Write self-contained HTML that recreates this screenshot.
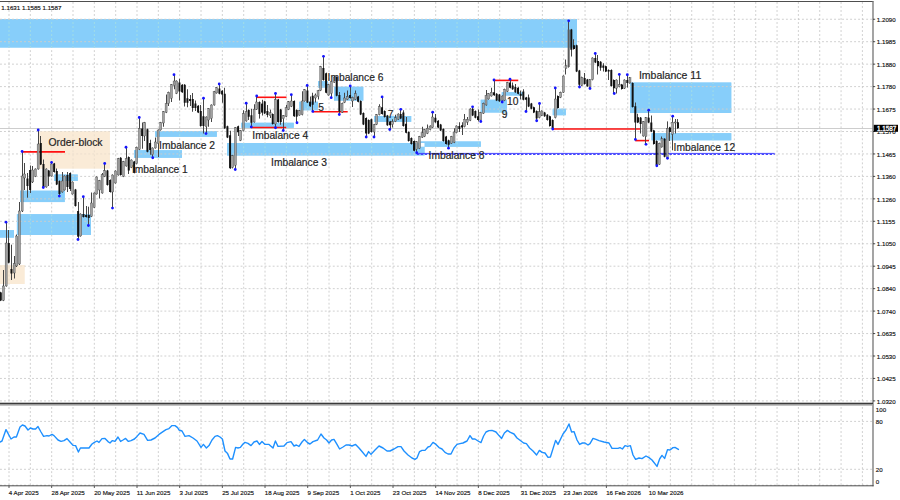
<!DOCTYPE html>
<html><head><meta charset="utf-8"><title>Chart</title>
<style>html,body{margin:0;padding:0;background:#fff;}body{width:900px;height:500px;overflow:hidden;font-family:"Liberation Sans",sans-serif;}svg{display:block}text{font-family:"Liberation Sans",sans-serif;}</style></head><body>
<svg width="900" height="500" viewBox="0 0 900 500">
<rect x="0" y="0" width="900" height="500" fill="#ffffff"/>
<rect x="38.8" y="131.4" width="71.00" height="37.00" fill="#FAEBD7"/>
<rect x="0" y="265.2" width="24.50" height="18.80" fill="#FAEBD7"/>
<rect x="0" y="19" width="577.00" height="28.50" fill="#87CEFA"/>
<rect x="54.2" y="174.6" width="23.50" height="6.40" fill="#87CEFA"/>
<rect x="20" y="190.7" width="44.70" height="11.40" fill="#87CEFA"/>
<rect x="16.9" y="214.2" width="74.10" height="20.70" fill="#87CEFA"/>
<rect x="0" y="230.2" width="14.00" height="7.40" fill="#87CEFA"/>
<rect x="134" y="150.25" width="48.00" height="7.50" fill="#87CEFA"/>
<rect x="155" y="131.2" width="61.80" height="5.55" fill="#87CEFA"/>
<rect x="227" y="143" width="197.50" height="12.40" fill="#87CEFA"/>
<rect x="241.25" y="122.8" width="52.50" height="4.95" fill="#87CEFA"/>
<rect x="299.25" y="101.75" width="18.75" height="8.50" fill="#87CEFA"/>
<rect x="318" y="81.2" width="9.75" height="6.30" fill="#87CEFA"/>
<rect x="334" y="86.75" width="29.30" height="13.85" fill="#87CEFA"/>
<rect x="374" y="116" width="37.20" height="5.80" fill="#87CEFA"/>
<rect x="420.5" y="141.5" width="60.30" height="5.20" fill="#87CEFA"/>
<rect x="480.75" y="99.75" width="26.25" height="12.75" fill="#87CEFA"/>
<rect x="501.75" y="92.25" width="21.00" height="3.25" fill="#87CEFA"/>
<rect x="552.75" y="108.75" width="13.05" height="6.45" fill="#87CEFA"/>
<rect x="630" y="82.6" width="101.25" height="30.40" fill="#87CEFA"/>
<rect x="651.5" y="133.2" width="79.75" height="7.10" fill="#87CEFA"/>
<rect x="420.5" y="143" width="4.00" height="3.70" fill="#ffffff"/>
<g stroke="#c4c4c4" stroke-width="0.8" stroke-dasharray="1.9 2.11" fill="none">
<line x1="9.00" y1="2.0" x2="9.00" y2="485.8"/>
<line x1="30.34" y1="2.0" x2="30.34" y2="485.8"/>
<line x1="51.67" y1="2.0" x2="51.67" y2="485.8"/>
<line x1="73.00" y1="2.0" x2="73.00" y2="485.8"/>
<line x1="94.34" y1="2.0" x2="94.34" y2="485.8"/>
<line x1="115.68" y1="2.0" x2="115.68" y2="485.8"/>
<line x1="137.01" y1="2.0" x2="137.01" y2="485.8"/>
<line x1="158.34" y1="2.0" x2="158.34" y2="485.8"/>
<line x1="179.68" y1="2.0" x2="179.68" y2="485.8"/>
<line x1="201.02" y1="2.0" x2="201.02" y2="485.8"/>
<line x1="222.35" y1="2.0" x2="222.35" y2="485.8"/>
<line x1="243.69" y1="2.0" x2="243.69" y2="485.8"/>
<line x1="265.02" y1="2.0" x2="265.02" y2="485.8"/>
<line x1="286.36" y1="2.0" x2="286.36" y2="485.8"/>
<line x1="307.69" y1="2.0" x2="307.69" y2="485.8"/>
<line x1="329.03" y1="2.0" x2="329.03" y2="485.8"/>
<line x1="350.36" y1="2.0" x2="350.36" y2="485.8"/>
<line x1="371.69" y1="2.0" x2="371.69" y2="485.8"/>
<line x1="393.03" y1="2.0" x2="393.03" y2="485.8"/>
<line x1="414.37" y1="2.0" x2="414.37" y2="485.8"/>
<line x1="435.70" y1="2.0" x2="435.70" y2="485.8"/>
<line x1="457.04" y1="2.0" x2="457.04" y2="485.8"/>
<line x1="478.37" y1="2.0" x2="478.37" y2="485.8"/>
<line x1="499.71" y1="2.0" x2="499.71" y2="485.8"/>
<line x1="521.04" y1="2.0" x2="521.04" y2="485.8"/>
<line x1="542.38" y1="2.0" x2="542.38" y2="485.8"/>
<line x1="563.71" y1="2.0" x2="563.71" y2="485.8"/>
<line x1="585.05" y1="2.0" x2="585.05" y2="485.8"/>
<line x1="606.38" y1="2.0" x2="606.38" y2="485.8"/>
<line x1="627.72" y1="2.0" x2="627.72" y2="485.8"/>
<line x1="649.05" y1="2.0" x2="649.05" y2="485.8"/>
<line x1="670.38" y1="2.0" x2="670.38" y2="485.8"/>
<line x1="691.72" y1="2.0" x2="691.72" y2="485.8"/>
<line x1="713.06" y1="2.0" x2="713.06" y2="485.8"/>
<line x1="734.39" y1="2.0" x2="734.39" y2="485.8"/>
<line x1="755.73" y1="2.0" x2="755.73" y2="485.8"/>
<line x1="777.06" y1="2.0" x2="777.06" y2="485.8"/>
<line x1="798.39" y1="2.0" x2="798.39" y2="485.8"/>
<line x1="819.73" y1="2.0" x2="819.73" y2="485.8"/>
<line x1="841.07" y1="2.0" x2="841.07" y2="485.8"/>
<line x1="862.40" y1="2.0" x2="862.40" y2="485.8"/>
<line x1="0" y1="19.25" x2="873.0" y2="19.25"/>
<line x1="0" y1="41.70" x2="873.0" y2="41.70"/>
<line x1="0" y1="64.15" x2="873.0" y2="64.15"/>
<line x1="0" y1="86.60" x2="873.0" y2="86.60"/>
<line x1="0" y1="109.05" x2="873.0" y2="109.05"/>
<line x1="0" y1="131.50" x2="873.0" y2="131.50"/>
<line x1="0" y1="153.95" x2="873.0" y2="153.95"/>
<line x1="0" y1="176.40" x2="873.0" y2="176.40"/>
<line x1="0" y1="198.85" x2="873.0" y2="198.85"/>
<line x1="0" y1="221.30" x2="873.0" y2="221.30"/>
<line x1="0" y1="243.75" x2="873.0" y2="243.75"/>
<line x1="0" y1="266.20" x2="873.0" y2="266.20"/>
<line x1="0" y1="288.65" x2="873.0" y2="288.65"/>
<line x1="0" y1="311.10" x2="873.0" y2="311.10"/>
<line x1="0" y1="333.55" x2="873.0" y2="333.55"/>
<line x1="0" y1="356.00" x2="873.0" y2="356.00"/>
<line x1="0" y1="378.45" x2="873.0" y2="378.45"/>
<line x1="0" y1="400.90" x2="873.0" y2="400.90"/>
<line x1="0" y1="421.40" x2="873.0" y2="421.40"/>
<line x1="0" y1="469.30" x2="873.0" y2="469.30"/>
<line x1="0" y1="485.20" x2="873.0" y2="485.20"/>
</g>
<defs><clipPath id="cb">
<rect x="0" y="19" width="577.00" height="28.50"/>
<rect x="54.2" y="174.6" width="23.50" height="6.40"/>
<rect x="20" y="190.7" width="44.70" height="11.40"/>
<rect x="16.9" y="214.2" width="74.10" height="20.70"/>
<rect x="0" y="230.2" width="14.00" height="7.40"/>
<rect x="134" y="150.25" width="48.00" height="7.50"/>
<rect x="155" y="131.2" width="61.80" height="5.55"/>
<rect x="227" y="143" width="197.50" height="12.40"/>
<rect x="241.25" y="122.8" width="52.50" height="4.95"/>
<rect x="299.25" y="101.75" width="18.75" height="8.50"/>
<rect x="318" y="81.2" width="9.75" height="6.30"/>
<rect x="334" y="86.75" width="29.30" height="13.85"/>
<rect x="374" y="116" width="37.20" height="5.80"/>
<rect x="420.5" y="141.5" width="60.30" height="5.20"/>
<rect x="480.75" y="99.75" width="26.25" height="12.75"/>
<rect x="501.75" y="92.25" width="21.00" height="3.25"/>
<rect x="552.75" y="108.75" width="13.05" height="6.45"/>
<rect x="630" y="82.6" width="101.25" height="30.40"/>
<rect x="651.5" y="133.2" width="79.75" height="7.10"/>
</clipPath><clipPath id="cg">
<rect x="38.8" y="131.4" width="71.00" height="37.00"/>
<rect x="0" y="265.2" width="24.50" height="18.80"/>
</clipPath></defs>
<g clip-path="url(#cb)"><rect x="0" y="0" width="900" height="500" fill="#87CEFA"/><g stroke="#a9e2e0" stroke-width="0.8" stroke-dasharray="1.9 2.11" fill="none">
<line x1="9.00" y1="2.0" x2="9.00" y2="485.8"/>
<line x1="30.34" y1="2.0" x2="30.34" y2="485.8"/>
<line x1="51.67" y1="2.0" x2="51.67" y2="485.8"/>
<line x1="73.00" y1="2.0" x2="73.00" y2="485.8"/>
<line x1="94.34" y1="2.0" x2="94.34" y2="485.8"/>
<line x1="115.68" y1="2.0" x2="115.68" y2="485.8"/>
<line x1="137.01" y1="2.0" x2="137.01" y2="485.8"/>
<line x1="158.34" y1="2.0" x2="158.34" y2="485.8"/>
<line x1="179.68" y1="2.0" x2="179.68" y2="485.8"/>
<line x1="201.02" y1="2.0" x2="201.02" y2="485.8"/>
<line x1="222.35" y1="2.0" x2="222.35" y2="485.8"/>
<line x1="243.69" y1="2.0" x2="243.69" y2="485.8"/>
<line x1="265.02" y1="2.0" x2="265.02" y2="485.8"/>
<line x1="286.36" y1="2.0" x2="286.36" y2="485.8"/>
<line x1="307.69" y1="2.0" x2="307.69" y2="485.8"/>
<line x1="329.03" y1="2.0" x2="329.03" y2="485.8"/>
<line x1="350.36" y1="2.0" x2="350.36" y2="485.8"/>
<line x1="371.69" y1="2.0" x2="371.69" y2="485.8"/>
<line x1="393.03" y1="2.0" x2="393.03" y2="485.8"/>
<line x1="414.37" y1="2.0" x2="414.37" y2="485.8"/>
<line x1="435.70" y1="2.0" x2="435.70" y2="485.8"/>
<line x1="457.04" y1="2.0" x2="457.04" y2="485.8"/>
<line x1="478.37" y1="2.0" x2="478.37" y2="485.8"/>
<line x1="499.71" y1="2.0" x2="499.71" y2="485.8"/>
<line x1="521.04" y1="2.0" x2="521.04" y2="485.8"/>
<line x1="542.38" y1="2.0" x2="542.38" y2="485.8"/>
<line x1="563.71" y1="2.0" x2="563.71" y2="485.8"/>
<line x1="585.05" y1="2.0" x2="585.05" y2="485.8"/>
<line x1="606.38" y1="2.0" x2="606.38" y2="485.8"/>
<line x1="627.72" y1="2.0" x2="627.72" y2="485.8"/>
<line x1="649.05" y1="2.0" x2="649.05" y2="485.8"/>
<line x1="670.38" y1="2.0" x2="670.38" y2="485.8"/>
<line x1="691.72" y1="2.0" x2="691.72" y2="485.8"/>
<line x1="713.06" y1="2.0" x2="713.06" y2="485.8"/>
<line x1="734.39" y1="2.0" x2="734.39" y2="485.8"/>
<line x1="755.73" y1="2.0" x2="755.73" y2="485.8"/>
<line x1="777.06" y1="2.0" x2="777.06" y2="485.8"/>
<line x1="798.39" y1="2.0" x2="798.39" y2="485.8"/>
<line x1="819.73" y1="2.0" x2="819.73" y2="485.8"/>
<line x1="841.07" y1="2.0" x2="841.07" y2="485.8"/>
<line x1="862.40" y1="2.0" x2="862.40" y2="485.8"/>
</g>
<g stroke="#d8cdc4" stroke-width="0.8" stroke-dasharray="1.9 2.11" fill="none">
<line x1="0" y1="19.25" x2="873.0" y2="19.25"/>
<line x1="0" y1="41.70" x2="873.0" y2="41.70"/>
<line x1="0" y1="64.15" x2="873.0" y2="64.15"/>
<line x1="0" y1="86.60" x2="873.0" y2="86.60"/>
<line x1="0" y1="109.05" x2="873.0" y2="109.05"/>
<line x1="0" y1="131.50" x2="873.0" y2="131.50"/>
<line x1="0" y1="153.95" x2="873.0" y2="153.95"/>
<line x1="0" y1="176.40" x2="873.0" y2="176.40"/>
<line x1="0" y1="198.85" x2="873.0" y2="198.85"/>
<line x1="0" y1="221.30" x2="873.0" y2="221.30"/>
<line x1="0" y1="243.75" x2="873.0" y2="243.75"/>
<line x1="0" y1="266.20" x2="873.0" y2="266.20"/>
<line x1="0" y1="288.65" x2="873.0" y2="288.65"/>
<line x1="0" y1="311.10" x2="873.0" y2="311.10"/>
<line x1="0" y1="333.55" x2="873.0" y2="333.55"/>
<line x1="0" y1="356.00" x2="873.0" y2="356.00"/>
<line x1="0" y1="378.45" x2="873.0" y2="378.45"/>
<line x1="0" y1="400.90" x2="873.0" y2="400.90"/>
</g></g>
<g clip-path="url(#cg)"><rect x="0" y="0" width="900" height="500" fill="#FAEBD7"/><g stroke="#e9dccb" stroke-width="0.8" stroke-dasharray="1.9 2.11" fill="none">
<line x1="9.00" y1="2.0" x2="9.00" y2="485.8"/>
<line x1="30.34" y1="2.0" x2="30.34" y2="485.8"/>
<line x1="51.67" y1="2.0" x2="51.67" y2="485.8"/>
<line x1="73.00" y1="2.0" x2="73.00" y2="485.8"/>
<line x1="94.34" y1="2.0" x2="94.34" y2="485.8"/>
<line x1="115.68" y1="2.0" x2="115.68" y2="485.8"/>
<line x1="137.01" y1="2.0" x2="137.01" y2="485.8"/>
<line x1="158.34" y1="2.0" x2="158.34" y2="485.8"/>
<line x1="179.68" y1="2.0" x2="179.68" y2="485.8"/>
<line x1="201.02" y1="2.0" x2="201.02" y2="485.8"/>
<line x1="222.35" y1="2.0" x2="222.35" y2="485.8"/>
<line x1="243.69" y1="2.0" x2="243.69" y2="485.8"/>
<line x1="265.02" y1="2.0" x2="265.02" y2="485.8"/>
<line x1="286.36" y1="2.0" x2="286.36" y2="485.8"/>
<line x1="307.69" y1="2.0" x2="307.69" y2="485.8"/>
<line x1="329.03" y1="2.0" x2="329.03" y2="485.8"/>
<line x1="350.36" y1="2.0" x2="350.36" y2="485.8"/>
<line x1="371.69" y1="2.0" x2="371.69" y2="485.8"/>
<line x1="393.03" y1="2.0" x2="393.03" y2="485.8"/>
<line x1="414.37" y1="2.0" x2="414.37" y2="485.8"/>
<line x1="435.70" y1="2.0" x2="435.70" y2="485.8"/>
<line x1="457.04" y1="2.0" x2="457.04" y2="485.8"/>
<line x1="478.37" y1="2.0" x2="478.37" y2="485.8"/>
<line x1="499.71" y1="2.0" x2="499.71" y2="485.8"/>
<line x1="521.04" y1="2.0" x2="521.04" y2="485.8"/>
<line x1="542.38" y1="2.0" x2="542.38" y2="485.8"/>
<line x1="563.71" y1="2.0" x2="563.71" y2="485.8"/>
<line x1="585.05" y1="2.0" x2="585.05" y2="485.8"/>
<line x1="606.38" y1="2.0" x2="606.38" y2="485.8"/>
<line x1="627.72" y1="2.0" x2="627.72" y2="485.8"/>
<line x1="649.05" y1="2.0" x2="649.05" y2="485.8"/>
<line x1="670.38" y1="2.0" x2="670.38" y2="485.8"/>
<line x1="691.72" y1="2.0" x2="691.72" y2="485.8"/>
<line x1="713.06" y1="2.0" x2="713.06" y2="485.8"/>
<line x1="734.39" y1="2.0" x2="734.39" y2="485.8"/>
<line x1="755.73" y1="2.0" x2="755.73" y2="485.8"/>
<line x1="777.06" y1="2.0" x2="777.06" y2="485.8"/>
<line x1="798.39" y1="2.0" x2="798.39" y2="485.8"/>
<line x1="819.73" y1="2.0" x2="819.73" y2="485.8"/>
<line x1="841.07" y1="2.0" x2="841.07" y2="485.8"/>
<line x1="862.40" y1="2.0" x2="862.40" y2="485.8"/>
</g>
<g stroke="#e9dccb" stroke-width="0.8" stroke-dasharray="1.9 2.11" fill="none">
<line x1="0" y1="19.25" x2="873.0" y2="19.25"/>
<line x1="0" y1="41.70" x2="873.0" y2="41.70"/>
<line x1="0" y1="64.15" x2="873.0" y2="64.15"/>
<line x1="0" y1="86.60" x2="873.0" y2="86.60"/>
<line x1="0" y1="109.05" x2="873.0" y2="109.05"/>
<line x1="0" y1="131.50" x2="873.0" y2="131.50"/>
<line x1="0" y1="153.95" x2="873.0" y2="153.95"/>
<line x1="0" y1="176.40" x2="873.0" y2="176.40"/>
<line x1="0" y1="198.85" x2="873.0" y2="198.85"/>
<line x1="0" y1="221.30" x2="873.0" y2="221.30"/>
<line x1="0" y1="243.75" x2="873.0" y2="243.75"/>
<line x1="0" y1="266.20" x2="873.0" y2="266.20"/>
<line x1="0" y1="288.65" x2="873.0" y2="288.65"/>
<line x1="0" y1="311.10" x2="873.0" y2="311.10"/>
<line x1="0" y1="333.55" x2="873.0" y2="333.55"/>
<line x1="0" y1="356.00" x2="873.0" y2="356.00"/>
<line x1="0" y1="378.45" x2="873.0" y2="378.45"/>
<line x1="0" y1="400.90" x2="873.0" y2="400.90"/>
</g></g>
<rect x="420.5" y="143" width="4.00" height="3.70" fill="#ffffff"/>
<line x1="0" y1="128.5" x2="873.0" y2="128.5" stroke="#c0c0c0" stroke-width="0.8"/>
<line x1="22" y1="151.9" x2="65" y2="151.9" stroke="#ff1010" stroke-width="1.6"/>
<line x1="256.7" y1="97.3" x2="286.5" y2="97.3" stroke="#ff1010" stroke-width="1.6"/>
<line x1="251" y1="127.5" x2="286.25" y2="127.5" stroke="#ff1010" stroke-width="1.6"/>
<line x1="312.6" y1="111.75" x2="347.7" y2="111.75" stroke="#ff1010" stroke-width="1.6"/>
<line x1="494" y1="80.4" x2="518.25" y2="80.4" stroke="#ff1010" stroke-width="1.6"/>
<line x1="552.75" y1="129.0" x2="641" y2="129.0" stroke="#ff1010" stroke-width="1.6"/>
<line x1="635.2" y1="140.6" x2="649" y2="140.6" stroke="#ff1010" stroke-width="1.6"/>
<line x1="416.75" y1="153.4" x2="774.7" y2="153.4" stroke="#3a3aff" stroke-width="0.95"/>
<line x1="416.75" y1="154.45" x2="774.7" y2="154.45" stroke="#3a3aff" stroke-width="1.0" stroke-dasharray="2.5 1.51"/>
<g>
<line x1="0.50" y1="291.80" x2="0.50" y2="301.10" stroke="#464646" stroke-width="1"/>
<rect x="-0.20" y="292.40" width="2.0" height="8.10" fill="#111111"/>
<line x1="3.50" y1="270.00" x2="3.50" y2="301.10" stroke="#464646" stroke-width="1"/>
<rect x="2.47" y="286.00" width="2.0" height="14.50" fill="#a2a2a2"/>
<rect x="2.47" y="286.00" width="2.0" height="14.50" fill="none" stroke="#333" stroke-width="0.35"/>
<line x1="6.50" y1="222.20" x2="6.50" y2="286.60" stroke="#464646" stroke-width="1"/>
<rect x="5.13" y="243.00" width="2.0" height="43.00" fill="#a2a2a2"/>
<rect x="5.13" y="243.00" width="2.0" height="43.00" fill="none" stroke="#333" stroke-width="0.35"/>
<line x1="8.50" y1="230.00" x2="8.50" y2="263.30" stroke="#464646" stroke-width="1"/>
<rect x="7.80" y="243.00" width="2.0" height="19.70" fill="#111111"/>
<line x1="11.50" y1="244.70" x2="11.50" y2="280.00" stroke="#464646" stroke-width="1"/>
<rect x="10.46" y="269.00" width="2.0" height="4.50" fill="#111111"/>
<line x1="14.50" y1="256.00" x2="14.50" y2="278.50" stroke="#464646" stroke-width="1"/>
<rect x="13.13" y="263.50" width="2.0" height="9.50" fill="#a2a2a2"/>
<rect x="13.13" y="263.50" width="2.0" height="9.50" fill="none" stroke="#333" stroke-width="0.35"/>
<line x1="16.50" y1="234.50" x2="16.50" y2="267.00" stroke="#464646" stroke-width="1"/>
<rect x="15.80" y="236.00" width="2.0" height="30.00" fill="#a2a2a2"/>
<rect x="15.80" y="236.00" width="2.0" height="30.00" fill="none" stroke="#333" stroke-width="0.35"/>
<line x1="19.50" y1="202.00" x2="19.50" y2="265.00" stroke="#464646" stroke-width="1"/>
<rect x="18.46" y="211.00" width="2.0" height="53.00" fill="#a2a2a2"/>
<rect x="18.46" y="211.00" width="2.0" height="53.00" fill="none" stroke="#333" stroke-width="0.35"/>
<line x1="22.50" y1="151.50" x2="22.50" y2="212.00" stroke="#464646" stroke-width="1"/>
<rect x="21.13" y="176.00" width="2.0" height="35.00" fill="#a2a2a2"/>
<rect x="21.13" y="176.00" width="2.0" height="35.00" fill="none" stroke="#333" stroke-width="0.35"/>
<line x1="24.50" y1="163.00" x2="24.50" y2="190.00" stroke="#464646" stroke-width="1"/>
<rect x="23.79" y="174.00" width="2.0" height="4.00" fill="#a2a2a2"/>
<rect x="23.79" y="174.00" width="2.0" height="4.00" fill="none" stroke="#333" stroke-width="0.35"/>
<line x1="27.50" y1="173.00" x2="27.50" y2="197.70" stroke="#464646" stroke-width="1"/>
<rect x="26.46" y="178.50" width="2.0" height="7.50" fill="#111111"/>
<line x1="30.50" y1="165.50" x2="30.50" y2="193.00" stroke="#464646" stroke-width="1"/>
<rect x="29.13" y="170.00" width="2.0" height="20.00" fill="#111111"/>
<line x1="32.50" y1="166.00" x2="32.50" y2="183.00" stroke="#464646" stroke-width="1"/>
<rect x="31.79" y="170.00" width="2.0" height="12.00" fill="#a2a2a2"/>
<rect x="31.79" y="170.00" width="2.0" height="12.00" fill="none" stroke="#333" stroke-width="0.35"/>
<line x1="35.50" y1="168.40" x2="35.50" y2="177.10" stroke="#464646" stroke-width="1"/>
<rect x="34.46" y="169.00" width="2.0" height="7.50" fill="#a2a2a2"/>
<rect x="34.46" y="169.00" width="2.0" height="7.50" fill="none" stroke="#333" stroke-width="0.35"/>
<line x1="38.50" y1="130.00" x2="38.50" y2="169.60" stroke="#464646" stroke-width="1"/>
<rect x="37.12" y="144.00" width="2.0" height="25.00" fill="#a2a2a2"/>
<rect x="37.12" y="144.00" width="2.0" height="25.00" fill="none" stroke="#333" stroke-width="0.35"/>
<line x1="40.50" y1="136.00" x2="40.50" y2="165.10" stroke="#464646" stroke-width="1"/>
<rect x="39.79" y="143.00" width="2.0" height="21.50" fill="#111111"/>
<line x1="43.50" y1="159.50" x2="43.50" y2="187.50" stroke="#464646" stroke-width="1"/>
<rect x="42.46" y="164.00" width="2.0" height="23.00" fill="#111111"/>
<line x1="46.50" y1="168.40" x2="46.50" y2="187.60" stroke="#464646" stroke-width="1"/>
<rect x="45.12" y="169.00" width="2.0" height="18.00" fill="#a2a2a2"/>
<rect x="45.12" y="169.00" width="2.0" height="18.00" fill="none" stroke="#333" stroke-width="0.35"/>
<line x1="48.50" y1="169.90" x2="48.50" y2="186.00" stroke="#464646" stroke-width="1"/>
<rect x="47.79" y="170.50" width="2.0" height="6.00" fill="#111111"/>
<line x1="51.50" y1="161.50" x2="51.50" y2="176.60" stroke="#464646" stroke-width="1"/>
<rect x="50.45" y="164.00" width="2.0" height="12.00" fill="#a2a2a2"/>
<rect x="50.45" y="164.00" width="2.0" height="12.00" fill="none" stroke="#333" stroke-width="0.35"/>
<line x1="54.50" y1="162.90" x2="54.50" y2="172.60" stroke="#464646" stroke-width="1"/>
<rect x="53.12" y="163.50" width="2.0" height="8.50" fill="#111111"/>
<line x1="56.50" y1="168.50" x2="56.50" y2="185.10" stroke="#464646" stroke-width="1"/>
<rect x="55.79" y="171.00" width="2.0" height="13.50" fill="#111111"/>
<line x1="59.50" y1="180.40" x2="59.50" y2="196.00" stroke="#464646" stroke-width="1"/>
<rect x="58.45" y="181.00" width="2.0" height="13.00" fill="#111111"/>
<line x1="62.50" y1="172.00" x2="62.50" y2="192.60" stroke="#464646" stroke-width="1"/>
<rect x="61.12" y="181.00" width="2.0" height="11.00" fill="#a2a2a2"/>
<rect x="61.12" y="181.00" width="2.0" height="11.00" fill="none" stroke="#333" stroke-width="0.35"/>
<line x1="64.50" y1="175.40" x2="64.50" y2="190.60" stroke="#464646" stroke-width="1"/>
<rect x="63.78" y="176.00" width="2.0" height="14.00" fill="#a2a2a2"/>
<rect x="63.78" y="176.00" width="2.0" height="14.00" fill="none" stroke="#333" stroke-width="0.35"/>
<line x1="67.50" y1="172.00" x2="67.50" y2="192.00" stroke="#464646" stroke-width="1"/>
<rect x="66.45" y="175.00" width="2.0" height="12.00" fill="#111111"/>
<line x1="70.50" y1="172.40" x2="70.50" y2="191.00" stroke="#464646" stroke-width="1"/>
<rect x="69.12" y="173.00" width="2.0" height="16.00" fill="#111111"/>
<line x1="72.50" y1="181.40" x2="72.50" y2="194.60" stroke="#464646" stroke-width="1"/>
<rect x="71.78" y="182.00" width="2.0" height="12.00" fill="#a2a2a2"/>
<rect x="71.78" y="182.00" width="2.0" height="12.00" fill="none" stroke="#333" stroke-width="0.35"/>
<line x1="75.50" y1="188.90" x2="75.50" y2="206.60" stroke="#464646" stroke-width="1"/>
<rect x="74.45" y="189.50" width="2.0" height="16.50" fill="#111111"/>
<line x1="78.50" y1="202.00" x2="78.50" y2="239.40" stroke="#464646" stroke-width="1"/>
<rect x="77.11" y="211.00" width="2.0" height="25.70" fill="#111111"/>
<line x1="80.50" y1="213.40" x2="80.50" y2="236.60" stroke="#464646" stroke-width="1"/>
<rect x="79.78" y="214.00" width="2.0" height="22.00" fill="#a2a2a2"/>
<rect x="79.78" y="214.00" width="2.0" height="22.00" fill="none" stroke="#333" stroke-width="0.35"/>
<line x1="83.50" y1="197.00" x2="83.50" y2="217.60" stroke="#464646" stroke-width="1"/>
<rect x="82.45" y="214.00" width="2.0" height="3.00" fill="#111111"/>
<line x1="86.50" y1="206.00" x2="86.50" y2="217.60" stroke="#464646" stroke-width="1"/>
<rect x="85.11" y="215.00" width="2.0" height="2.00" fill="#111111"/>
<line x1="88.50" y1="206.70" x2="88.50" y2="225.50" stroke="#464646" stroke-width="1"/>
<rect x="87.78" y="215.00" width="2.0" height="3.00" fill="#111111"/>
<line x1="91.50" y1="192.50" x2="91.50" y2="217.10" stroke="#464646" stroke-width="1"/>
<rect x="90.44" y="203.00" width="2.0" height="13.50" fill="#a2a2a2"/>
<rect x="90.44" y="203.00" width="2.0" height="13.50" fill="none" stroke="#333" stroke-width="0.35"/>
<line x1="94.50" y1="192.40" x2="94.50" y2="208.10" stroke="#464646" stroke-width="1"/>
<rect x="93.11" y="193.00" width="2.0" height="14.50" fill="#a2a2a2"/>
<rect x="93.11" y="193.00" width="2.0" height="14.50" fill="none" stroke="#333" stroke-width="0.35"/>
<line x1="96.50" y1="176.40" x2="96.50" y2="194.60" stroke="#464646" stroke-width="1"/>
<rect x="95.78" y="177.00" width="2.0" height="17.00" fill="#a2a2a2"/>
<rect x="95.78" y="177.00" width="2.0" height="17.00" fill="none" stroke="#333" stroke-width="0.35"/>
<line x1="99.50" y1="179.90" x2="99.50" y2="198.50" stroke="#464646" stroke-width="1"/>
<rect x="98.44" y="180.50" width="2.0" height="9.50" fill="#a2a2a2"/>
<rect x="98.44" y="180.50" width="2.0" height="9.50" fill="none" stroke="#333" stroke-width="0.35"/>
<line x1="102.50" y1="173.00" x2="102.50" y2="193.60" stroke="#464646" stroke-width="1"/>
<rect x="101.11" y="174.50" width="2.0" height="18.50" fill="#a2a2a2"/>
<rect x="101.11" y="174.50" width="2.0" height="18.50" fill="none" stroke="#333" stroke-width="0.35"/>
<line x1="104.50" y1="163.50" x2="104.50" y2="177.10" stroke="#464646" stroke-width="1"/>
<rect x="103.77" y="170.50" width="2.0" height="6.00" fill="#a2a2a2"/>
<rect x="103.77" y="170.50" width="2.0" height="6.00" fill="none" stroke="#333" stroke-width="0.35"/>
<line x1="107.50" y1="169.90" x2="107.50" y2="185.60" stroke="#464646" stroke-width="1"/>
<rect x="106.44" y="170.50" width="2.0" height="14.50" fill="#111111"/>
<line x1="110.50" y1="179.40" x2="110.50" y2="192.60" stroke="#464646" stroke-width="1"/>
<rect x="109.11" y="180.00" width="2.0" height="12.00" fill="#111111"/>
<line x1="112.50" y1="174.40" x2="112.50" y2="208.00" stroke="#464646" stroke-width="1"/>
<rect x="111.77" y="175.00" width="2.0" height="17.00" fill="#a2a2a2"/>
<rect x="111.77" y="175.00" width="2.0" height="17.00" fill="none" stroke="#333" stroke-width="0.35"/>
<line x1="115.50" y1="170.40" x2="115.50" y2="183.60" stroke="#464646" stroke-width="1"/>
<rect x="114.44" y="171.00" width="2.0" height="12.00" fill="#a2a2a2"/>
<rect x="114.44" y="171.00" width="2.0" height="12.00" fill="none" stroke="#333" stroke-width="0.35"/>
<line x1="118.50" y1="157.90" x2="118.50" y2="175.60" stroke="#464646" stroke-width="1"/>
<rect x="117.10" y="158.50" width="2.0" height="16.50" fill="#a2a2a2"/>
<rect x="117.10" y="158.50" width="2.0" height="16.50" fill="none" stroke="#333" stroke-width="0.35"/>
<line x1="120.50" y1="157.15" x2="120.50" y2="175.60" stroke="#464646" stroke-width="1"/>
<rect x="119.77" y="157.75" width="2.0" height="17.25" fill="#111111"/>
<line x1="123.50" y1="160.90" x2="123.50" y2="177.10" stroke="#464646" stroke-width="1"/>
<rect x="122.44" y="161.50" width="2.0" height="15.00" fill="#a2a2a2"/>
<rect x="122.44" y="161.50" width="2.0" height="15.00" fill="none" stroke="#333" stroke-width="0.35"/>
<line x1="126.50" y1="147.25" x2="126.50" y2="166.60" stroke="#464646" stroke-width="1"/>
<rect x="125.10" y="158.50" width="2.0" height="7.50" fill="#a2a2a2"/>
<rect x="125.10" y="158.50" width="2.0" height="7.50" fill="none" stroke="#333" stroke-width="0.35"/>
<line x1="128.50" y1="156.40" x2="128.50" y2="174.00" stroke="#464646" stroke-width="1"/>
<rect x="127.77" y="157.00" width="2.0" height="13.50" fill="#111111"/>
<line x1="131.50" y1="159.40" x2="131.50" y2="168.10" stroke="#464646" stroke-width="1"/>
<rect x="130.43" y="160.00" width="2.0" height="7.50" fill="#a2a2a2"/>
<rect x="130.43" y="160.00" width="2.0" height="7.50" fill="none" stroke="#333" stroke-width="0.35"/>
<line x1="134.50" y1="160.90" x2="134.50" y2="173.35" stroke="#464646" stroke-width="1"/>
<rect x="133.10" y="161.50" width="2.0" height="11.25" fill="#111111"/>
<line x1="136.50" y1="146.65" x2="136.50" y2="164.35" stroke="#464646" stroke-width="1"/>
<rect x="135.77" y="147.25" width="2.0" height="16.50" fill="#a2a2a2"/>
<rect x="135.77" y="147.25" width="2.0" height="16.50" fill="none" stroke="#333" stroke-width="0.35"/>
<line x1="139.50" y1="117.50" x2="139.50" y2="150.10" stroke="#464646" stroke-width="1"/>
<rect x="138.43" y="128.50" width="2.0" height="21.00" fill="#a2a2a2"/>
<rect x="138.43" y="128.50" width="2.0" height="21.00" fill="none" stroke="#333" stroke-width="0.35"/>
<line x1="142.50" y1="122.50" x2="142.50" y2="148.75" stroke="#464646" stroke-width="1"/>
<rect x="141.10" y="128.50" width="2.0" height="7.50" fill="#111111"/>
<line x1="144.50" y1="121.90" x2="144.50" y2="141.00" stroke="#464646" stroke-width="1"/>
<rect x="143.76" y="122.50" width="2.0" height="13.50" fill="#a2a2a2"/>
<rect x="143.76" y="122.50" width="2.0" height="13.50" fill="none" stroke="#333" stroke-width="0.35"/>
<line x1="147.50" y1="128.65" x2="147.50" y2="152.35" stroke="#464646" stroke-width="1"/>
<rect x="146.43" y="129.25" width="2.0" height="22.50" fill="#111111"/>
<line x1="150.50" y1="139.75" x2="150.50" y2="154.75" stroke="#464646" stroke-width="1"/>
<rect x="149.10" y="143.00" width="2.0" height="7.00" fill="#111111"/>
<line x1="152.50" y1="147.40" x2="152.50" y2="157.75" stroke="#464646" stroke-width="1"/>
<rect x="151.76" y="148.00" width="2.0" height="6.75" fill="#a2a2a2"/>
<rect x="151.76" y="148.00" width="2.0" height="6.75" fill="none" stroke="#333" stroke-width="0.35"/>
<line x1="155.50" y1="137.50" x2="155.50" y2="148.60" stroke="#464646" stroke-width="1"/>
<rect x="154.43" y="142.00" width="2.0" height="6.00" fill="#a2a2a2"/>
<rect x="154.43" y="142.00" width="2.0" height="6.00" fill="none" stroke="#333" stroke-width="0.35"/>
<line x1="158.50" y1="129.40" x2="158.50" y2="157.00" stroke="#464646" stroke-width="1"/>
<rect x="157.09" y="130.00" width="2.0" height="13.50" fill="#a2a2a2"/>
<rect x="157.09" y="130.00" width="2.0" height="13.50" fill="none" stroke="#333" stroke-width="0.35"/>
<line x1="160.50" y1="121.90" x2="160.50" y2="130.60" stroke="#464646" stroke-width="1"/>
<rect x="159.76" y="122.50" width="2.0" height="7.50" fill="#a2a2a2"/>
<rect x="159.76" y="122.50" width="2.0" height="7.50" fill="none" stroke="#333" stroke-width="0.35"/>
<line x1="163.50" y1="111.15" x2="163.50" y2="126.75" stroke="#464646" stroke-width="1"/>
<rect x="162.43" y="111.75" width="2.0" height="11.25" fill="#a2a2a2"/>
<rect x="162.43" y="111.75" width="2.0" height="11.25" fill="none" stroke="#333" stroke-width="0.35"/>
<line x1="166.50" y1="94.50" x2="166.50" y2="113.10" stroke="#464646" stroke-width="1"/>
<rect x="165.09" y="103.50" width="2.0" height="9.00" fill="#a2a2a2"/>
<rect x="165.09" y="103.50" width="2.0" height="9.00" fill="none" stroke="#333" stroke-width="0.35"/>
<line x1="168.50" y1="91.65" x2="168.50" y2="106.00" stroke="#464646" stroke-width="1"/>
<rect x="167.76" y="92.25" width="2.0" height="11.25" fill="#a2a2a2"/>
<rect x="167.76" y="92.25" width="2.0" height="11.25" fill="none" stroke="#333" stroke-width="0.35"/>
<line x1="171.50" y1="84.15" x2="171.50" y2="102.00" stroke="#464646" stroke-width="1"/>
<rect x="170.42" y="84.75" width="2.0" height="13.50" fill="#a2a2a2"/>
<rect x="170.42" y="84.75" width="2.0" height="13.50" fill="none" stroke="#333" stroke-width="0.35"/>
<line x1="174.50" y1="74.70" x2="174.50" y2="89.25" stroke="#464646" stroke-width="1"/>
<rect x="173.09" y="81.00" width="2.0" height="4.50" fill="#a2a2a2"/>
<rect x="173.09" y="81.00" width="2.0" height="4.50" fill="none" stroke="#333" stroke-width="0.35"/>
<line x1="176.50" y1="80.40" x2="176.50" y2="94.10" stroke="#464646" stroke-width="1"/>
<rect x="175.76" y="81.00" width="2.0" height="12.50" fill="#a2a2a2"/>
<rect x="175.76" y="81.00" width="2.0" height="12.50" fill="none" stroke="#333" stroke-width="0.35"/>
<line x1="179.50" y1="78.75" x2="179.50" y2="100.50" stroke="#464646" stroke-width="1"/>
<rect x="178.42" y="82.50" width="2.0" height="9.00" fill="#111111"/>
<line x1="182.50" y1="84.15" x2="182.50" y2="92.85" stroke="#464646" stroke-width="1"/>
<rect x="181.09" y="84.75" width="2.0" height="7.50" fill="#111111"/>
<line x1="184.50" y1="84.15" x2="184.50" y2="106.50" stroke="#464646" stroke-width="1"/>
<rect x="183.75" y="84.75" width="2.0" height="18.00" fill="#111111"/>
<line x1="187.50" y1="89.25" x2="187.50" y2="107.25" stroke="#464646" stroke-width="1"/>
<rect x="186.42" y="98.25" width="2.0" height="4.50" fill="#111111"/>
<line x1="190.50" y1="95.00" x2="190.50" y2="106.00" stroke="#464646" stroke-width="1"/>
<rect x="189.09" y="99.00" width="2.0" height="2.00" fill="#111111"/>
<line x1="192.50" y1="93.00" x2="192.50" y2="111.75" stroke="#464646" stroke-width="1"/>
<rect x="191.75" y="99.00" width="2.0" height="9.00" fill="#111111"/>
<line x1="195.50" y1="100.50" x2="195.50" y2="111.00" stroke="#464646" stroke-width="1"/>
<rect x="194.42" y="103.50" width="2.0" height="4.50" fill="#111111"/>
<line x1="198.50" y1="105.15" x2="198.50" y2="113.10" stroke="#464646" stroke-width="1"/>
<rect x="197.08" y="105.75" width="2.0" height="6.75" fill="#111111"/>
<line x1="200.50" y1="105.00" x2="200.50" y2="126.60" stroke="#464646" stroke-width="1"/>
<rect x="199.75" y="111.00" width="2.0" height="15.00" fill="#111111"/>
<line x1="203.50" y1="98.25" x2="203.50" y2="133.50" stroke="#464646" stroke-width="1"/>
<rect x="202.42" y="116.25" width="2.0" height="9.75" fill="#111111"/>
<line x1="206.50" y1="116.40" x2="206.50" y2="133.50" stroke="#464646" stroke-width="1"/>
<rect x="205.08" y="117.00" width="2.0" height="9.75" fill="#a2a2a2"/>
<rect x="205.08" y="117.00" width="2.0" height="9.75" fill="none" stroke="#333" stroke-width="0.35"/>
<line x1="208.50" y1="108.15" x2="208.50" y2="126.75" stroke="#464646" stroke-width="1"/>
<rect x="207.75" y="108.75" width="2.0" height="11.25" fill="#a2a2a2"/>
<rect x="207.75" y="108.75" width="2.0" height="11.25" fill="none" stroke="#333" stroke-width="0.35"/>
<line x1="211.50" y1="104.40" x2="211.50" y2="122.00" stroke="#464646" stroke-width="1"/>
<rect x="210.41" y="105.00" width="2.0" height="13.50" fill="#a2a2a2"/>
<rect x="210.41" y="105.00" width="2.0" height="13.50" fill="none" stroke="#333" stroke-width="0.35"/>
<line x1="214.50" y1="90.90" x2="214.50" y2="105.60" stroke="#464646" stroke-width="1"/>
<rect x="213.08" y="91.50" width="2.0" height="13.50" fill="#a2a2a2"/>
<rect x="213.08" y="91.50" width="2.0" height="13.50" fill="none" stroke="#333" stroke-width="0.35"/>
<line x1="216.50" y1="87.15" x2="216.50" y2="93.60" stroke="#464646" stroke-width="1"/>
<rect x="215.75" y="87.75" width="2.0" height="5.25" fill="#a2a2a2"/>
<rect x="215.75" y="87.75" width="2.0" height="5.25" fill="none" stroke="#333" stroke-width="0.35"/>
<line x1="219.50" y1="84.00" x2="219.50" y2="94.35" stroke="#464646" stroke-width="1"/>
<rect x="218.41" y="88.50" width="2.0" height="5.25" fill="#111111"/>
<line x1="222.50" y1="90.15" x2="222.50" y2="102.75" stroke="#464646" stroke-width="1"/>
<rect x="221.08" y="90.75" width="2.0" height="3.75" fill="#111111"/>
<line x1="224.50" y1="87.75" x2="224.50" y2="128.85" stroke="#464646" stroke-width="1"/>
<rect x="223.74" y="93.75" width="2.0" height="34.50" fill="#111111"/>
<line x1="227.50" y1="125.65" x2="227.50" y2="138.10" stroke="#464646" stroke-width="1"/>
<rect x="226.41" y="126.25" width="2.0" height="11.25" fill="#111111"/>
<line x1="230.50" y1="130.75" x2="230.50" y2="168.85" stroke="#464646" stroke-width="1"/>
<rect x="229.08" y="135.25" width="2.0" height="33.00" fill="#111111"/>
<line x1="232.50" y1="154.90" x2="232.50" y2="168.40" stroke="#464646" stroke-width="1"/>
<rect x="231.74" y="155.50" width="2.0" height="12.00" fill="#a2a2a2"/>
<rect x="231.74" y="155.50" width="2.0" height="12.00" fill="none" stroke="#333" stroke-width="0.35"/>
<line x1="235.50" y1="127.15" x2="235.50" y2="169.50" stroke="#464646" stroke-width="1"/>
<rect x="234.41" y="127.75" width="2.0" height="37.50" fill="#a2a2a2"/>
<rect x="234.41" y="127.75" width="2.0" height="37.50" fill="none" stroke="#333" stroke-width="0.35"/>
<line x1="238.50" y1="125.65" x2="238.50" y2="136.00" stroke="#464646" stroke-width="1"/>
<rect x="237.07" y="126.25" width="2.0" height="6.00" fill="#111111"/>
<line x1="240.50" y1="130.15" x2="240.50" y2="141.10" stroke="#464646" stroke-width="1"/>
<rect x="239.74" y="130.75" width="2.0" height="9.75" fill="#a2a2a2"/>
<rect x="239.74" y="130.75" width="2.0" height="9.75" fill="none" stroke="#333" stroke-width="0.35"/>
<line x1="243.50" y1="110.25" x2="243.50" y2="131.35" stroke="#464646" stroke-width="1"/>
<rect x="242.41" y="113.50" width="2.0" height="17.25" fill="#a2a2a2"/>
<rect x="242.41" y="113.50" width="2.0" height="17.25" fill="none" stroke="#333" stroke-width="0.35"/>
<line x1="246.50" y1="103.25" x2="246.50" y2="121.60" stroke="#464646" stroke-width="1"/>
<rect x="245.07" y="111.50" width="2.0" height="9.50" fill="#a2a2a2"/>
<rect x="245.07" y="111.50" width="2.0" height="9.50" fill="none" stroke="#333" stroke-width="0.35"/>
<line x1="248.50" y1="109.40" x2="248.50" y2="120.00" stroke="#464646" stroke-width="1"/>
<rect x="247.74" y="110.00" width="2.0" height="6.75" fill="#111111"/>
<line x1="251.50" y1="108.75" x2="251.50" y2="126.90" stroke="#464646" stroke-width="1"/>
<rect x="250.40" y="115.25" width="2.0" height="7.50" fill="#111111"/>
<line x1="254.50" y1="104.25" x2="254.50" y2="122.60" stroke="#464646" stroke-width="1"/>
<rect x="253.07" y="109.25" width="2.0" height="12.75" fill="#a2a2a2"/>
<rect x="253.07" y="109.25" width="2.0" height="12.75" fill="none" stroke="#333" stroke-width="0.35"/>
<line x1="256.50" y1="96.40" x2="256.50" y2="109.85" stroke="#464646" stroke-width="1"/>
<rect x="255.74" y="102.00" width="2.0" height="7.25" fill="#a2a2a2"/>
<rect x="255.74" y="102.00" width="2.0" height="7.25" fill="none" stroke="#333" stroke-width="0.35"/>
<line x1="259.50" y1="101.40" x2="259.50" y2="118.60" stroke="#464646" stroke-width="1"/>
<rect x="258.40" y="102.00" width="2.0" height="12.00" fill="#111111"/>
<line x1="262.50" y1="99.75" x2="262.50" y2="115.50" stroke="#464646" stroke-width="1"/>
<rect x="261.07" y="103.60" width="2.0" height="9.00" fill="#111111"/>
<line x1="264.50" y1="100.80" x2="264.50" y2="114.00" stroke="#464646" stroke-width="1"/>
<rect x="263.73" y="101.40" width="2.0" height="12.00" fill="#111111"/>
<line x1="267.50" y1="105.00" x2="267.50" y2="117.25" stroke="#464646" stroke-width="1"/>
<rect x="266.40" y="111.00" width="2.0" height="4.00" fill="#111111"/>
<line x1="270.50" y1="109.60" x2="270.50" y2="118.00" stroke="#464646" stroke-width="1"/>
<rect x="269.07" y="112.75" width="2.0" height="3.00" fill="#a2a2a2"/>
<rect x="269.07" y="112.75" width="2.0" height="3.00" fill="none" stroke="#333" stroke-width="0.35"/>
<line x1="272.50" y1="113.40" x2="272.50" y2="124.60" stroke="#464646" stroke-width="1"/>
<rect x="271.73" y="114.00" width="2.0" height="10.00" fill="#111111"/>
<line x1="275.50" y1="93.50" x2="275.50" y2="127.75" stroke="#464646" stroke-width="1"/>
<rect x="274.40" y="99.50" width="2.0" height="24.50" fill="#a2a2a2"/>
<rect x="274.40" y="99.50" width="2.0" height="24.50" fill="none" stroke="#333" stroke-width="0.35"/>
<line x1="278.50" y1="98.90" x2="278.50" y2="122.60" stroke="#464646" stroke-width="1"/>
<rect x="277.06" y="99.50" width="2.0" height="22.50" fill="#111111"/>
<line x1="280.50" y1="108.90" x2="280.50" y2="124.75" stroke="#464646" stroke-width="1"/>
<rect x="279.73" y="109.50" width="2.0" height="12.50" fill="#111111"/>
<line x1="283.50" y1="115.15" x2="283.50" y2="130.00" stroke="#464646" stroke-width="1"/>
<rect x="282.40" y="115.75" width="2.0" height="3.00" fill="#a2a2a2"/>
<rect x="282.40" y="115.75" width="2.0" height="3.00" fill="none" stroke="#333" stroke-width="0.35"/>
<line x1="286.50" y1="104.75" x2="286.50" y2="117.20" stroke="#464646" stroke-width="1"/>
<rect x="285.06" y="107.60" width="2.0" height="9.00" fill="#a2a2a2"/>
<rect x="285.06" y="107.60" width="2.0" height="9.00" fill="none" stroke="#333" stroke-width="0.35"/>
<line x1="288.50" y1="101.00" x2="288.50" y2="110.10" stroke="#464646" stroke-width="1"/>
<rect x="287.73" y="101.75" width="2.0" height="7.75" fill="#a2a2a2"/>
<rect x="287.73" y="101.75" width="2.0" height="7.75" fill="none" stroke="#333" stroke-width="0.35"/>
<line x1="291.50" y1="94.70" x2="291.50" y2="107.10" stroke="#464646" stroke-width="1"/>
<rect x="290.39" y="101.00" width="2.0" height="5.50" fill="#a2a2a2"/>
<rect x="290.39" y="101.00" width="2.0" height="5.50" fill="none" stroke="#333" stroke-width="0.35"/>
<line x1="294.50" y1="100.40" x2="294.50" y2="116.85" stroke="#464646" stroke-width="1"/>
<rect x="293.06" y="101.00" width="2.0" height="15.25" fill="#111111"/>
<line x1="296.50" y1="109.40" x2="296.50" y2="122.75" stroke="#464646" stroke-width="1"/>
<rect x="295.73" y="110.00" width="2.0" height="6.60" fill="#111111"/>
<line x1="299.50" y1="110.00" x2="299.50" y2="115.70" stroke="#464646" stroke-width="1"/>
<rect x="298.39" y="110.60" width="2.0" height="4.50" fill="#a2a2a2"/>
<rect x="298.39" y="110.60" width="2.0" height="4.50" fill="none" stroke="#333" stroke-width="0.35"/>
<line x1="302.50" y1="91.25" x2="302.50" y2="115.35" stroke="#464646" stroke-width="1"/>
<rect x="301.06" y="101.00" width="2.0" height="13.75" fill="#a2a2a2"/>
<rect x="301.06" y="101.00" width="2.0" height="13.75" fill="none" stroke="#333" stroke-width="0.35"/>
<line x1="304.50" y1="89.15" x2="304.50" y2="101.60" stroke="#464646" stroke-width="1"/>
<rect x="303.72" y="89.75" width="2.0" height="11.25" fill="#a2a2a2"/>
<rect x="303.72" y="89.75" width="2.0" height="11.25" fill="none" stroke="#333" stroke-width="0.35"/>
<line x1="307.50" y1="85.50" x2="307.50" y2="103.10" stroke="#464646" stroke-width="1"/>
<rect x="306.39" y="90.50" width="2.0" height="12.00" fill="#111111"/>
<line x1="310.50" y1="96.50" x2="310.50" y2="106.85" stroke="#464646" stroke-width="1"/>
<rect x="309.06" y="101.75" width="2.0" height="4.50" fill="#111111"/>
<line x1="312.50" y1="92.75" x2="312.50" y2="111.50" stroke="#464646" stroke-width="1"/>
<rect x="311.72" y="95.75" width="2.0" height="9.00" fill="#111111"/>
<line x1="315.50" y1="93.50" x2="315.50" y2="102.50" stroke="#464646" stroke-width="1"/>
<rect x="314.39" y="95.00" width="2.0" height="3.00" fill="#a2a2a2"/>
<rect x="314.39" y="95.00" width="2.0" height="3.00" fill="none" stroke="#333" stroke-width="0.35"/>
<line x1="318.50" y1="89.90" x2="318.50" y2="99.50" stroke="#464646" stroke-width="1"/>
<rect x="317.05" y="90.50" width="2.0" height="6.00" fill="#a2a2a2"/>
<rect x="317.05" y="90.50" width="2.0" height="6.00" fill="none" stroke="#333" stroke-width="0.35"/>
<line x1="320.50" y1="65.90" x2="320.50" y2="91.10" stroke="#464646" stroke-width="1"/>
<rect x="319.72" y="66.50" width="2.0" height="24.00" fill="#a2a2a2"/>
<rect x="319.72" y="66.50" width="2.0" height="24.00" fill="none" stroke="#333" stroke-width="0.35"/>
<line x1="323.50" y1="56.30" x2="323.50" y2="80.60" stroke="#464646" stroke-width="1"/>
<rect x="322.39" y="68.00" width="2.0" height="12.00" fill="#111111"/>
<line x1="326.50" y1="72.65" x2="326.50" y2="93.35" stroke="#464646" stroke-width="1"/>
<rect x="325.05" y="73.25" width="2.0" height="19.50" fill="#111111"/>
<line x1="328.50" y1="83.90" x2="328.50" y2="95.60" stroke="#464646" stroke-width="1"/>
<rect x="327.72" y="84.50" width="2.0" height="10.50" fill="#a2a2a2"/>
<rect x="327.72" y="84.50" width="2.0" height="10.50" fill="none" stroke="#333" stroke-width="0.35"/>
<line x1="331.50" y1="80.90" x2="331.50" y2="97.70" stroke="#464646" stroke-width="1"/>
<rect x="330.38" y="81.50" width="2.0" height="12.00" fill="#a2a2a2"/>
<rect x="330.38" y="81.50" width="2.0" height="12.00" fill="none" stroke="#333" stroke-width="0.35"/>
<line x1="334.50" y1="76.40" x2="334.50" y2="82.85" stroke="#464646" stroke-width="1"/>
<rect x="333.05" y="77.00" width="2.0" height="5.25" fill="#a2a2a2"/>
<rect x="333.05" y="77.00" width="2.0" height="5.25" fill="none" stroke="#333" stroke-width="0.35"/>
<line x1="336.50" y1="76.40" x2="336.50" y2="96.35" stroke="#464646" stroke-width="1"/>
<rect x="335.72" y="77.00" width="2.0" height="18.75" fill="#111111"/>
<line x1="339.50" y1="92.00" x2="339.50" y2="114.50" stroke="#464646" stroke-width="1"/>
<rect x="338.38" y="95.00" width="2.0" height="16.50" fill="#111111"/>
<line x1="342.50" y1="102.65" x2="342.50" y2="112.85" stroke="#464646" stroke-width="1"/>
<rect x="341.05" y="103.25" width="2.0" height="9.00" fill="#a2a2a2"/>
<rect x="341.05" y="103.25" width="2.0" height="9.00" fill="none" stroke="#333" stroke-width="0.35"/>
<line x1="344.50" y1="92.75" x2="344.50" y2="103.10" stroke="#464646" stroke-width="1"/>
<rect x="343.71" y="98.00" width="2.0" height="4.50" fill="#a2a2a2"/>
<rect x="343.71" y="98.00" width="2.0" height="4.50" fill="none" stroke="#333" stroke-width="0.35"/>
<line x1="347.50" y1="90.50" x2="347.50" y2="100.10" stroke="#464646" stroke-width="1"/>
<rect x="346.38" y="96.50" width="2.0" height="3.00" fill="#a2a2a2"/>
<rect x="346.38" y="96.50" width="2.0" height="3.00" fill="none" stroke="#333" stroke-width="0.35"/>
<line x1="350.50" y1="86.00" x2="350.50" y2="98.60" stroke="#464646" stroke-width="1"/>
<rect x="349.05" y="95.00" width="2.0" height="3.00" fill="#111111"/>
<line x1="352.50" y1="96.65" x2="352.50" y2="107.00" stroke="#464646" stroke-width="1"/>
<rect x="351.71" y="97.25" width="2.0" height="3.75" fill="#a2a2a2"/>
<rect x="351.71" y="97.25" width="2.0" height="3.75" fill="none" stroke="#333" stroke-width="0.35"/>
<line x1="355.50" y1="90.50" x2="355.50" y2="100.10" stroke="#464646" stroke-width="1"/>
<rect x="354.38" y="93.50" width="2.0" height="6.00" fill="#a2a2a2"/>
<rect x="354.38" y="93.50" width="2.0" height="6.00" fill="none" stroke="#333" stroke-width="0.35"/>
<line x1="358.50" y1="95.90" x2="358.50" y2="102.35" stroke="#464646" stroke-width="1"/>
<rect x="357.04" y="96.50" width="2.0" height="5.25" fill="#111111"/>
<line x1="360.50" y1="100.40" x2="360.50" y2="115.10" stroke="#464646" stroke-width="1"/>
<rect x="359.71" y="101.00" width="2.0" height="13.50" fill="#111111"/>
<line x1="363.50" y1="112.40" x2="363.50" y2="125.10" stroke="#464646" stroke-width="1"/>
<rect x="362.38" y="113.00" width="2.0" height="11.50" fill="#111111"/>
<line x1="366.50" y1="117.40" x2="366.50" y2="137.00" stroke="#464646" stroke-width="1"/>
<rect x="365.04" y="118.00" width="2.0" height="15.50" fill="#111111"/>
<line x1="368.50" y1="119.40" x2="368.50" y2="134.10" stroke="#464646" stroke-width="1"/>
<rect x="367.71" y="120.00" width="2.0" height="13.50" fill="#111111"/>
<line x1="371.50" y1="118.65" x2="371.50" y2="132.60" stroke="#464646" stroke-width="1"/>
<rect x="370.37" y="119.25" width="2.0" height="12.75" fill="#111111"/>
<line x1="374.50" y1="123.90" x2="374.50" y2="137.00" stroke="#464646" stroke-width="1"/>
<rect x="373.04" y="124.50" width="2.0" height="7.50" fill="#a2a2a2"/>
<rect x="373.04" y="124.50" width="2.0" height="7.50" fill="none" stroke="#333" stroke-width="0.35"/>
<line x1="376.50" y1="114.15" x2="376.50" y2="125.10" stroke="#464646" stroke-width="1"/>
<rect x="375.71" y="114.75" width="2.0" height="9.75" fill="#a2a2a2"/>
<rect x="375.71" y="114.75" width="2.0" height="9.75" fill="none" stroke="#333" stroke-width="0.35"/>
<line x1="379.50" y1="104.25" x2="379.50" y2="115.35" stroke="#464646" stroke-width="1"/>
<rect x="378.37" y="106.50" width="2.0" height="8.25" fill="#a2a2a2"/>
<rect x="378.37" y="106.50" width="2.0" height="8.25" fill="none" stroke="#333" stroke-width="0.35"/>
<line x1="382.50" y1="96.75" x2="382.50" y2="114.60" stroke="#464646" stroke-width="1"/>
<rect x="381.04" y="107.25" width="2.0" height="6.75" fill="#111111"/>
<line x1="384.50" y1="110.40" x2="384.50" y2="117.60" stroke="#464646" stroke-width="1"/>
<rect x="383.70" y="111.00" width="2.0" height="6.00" fill="#111111"/>
<line x1="387.50" y1="114.90" x2="387.50" y2="125.85" stroke="#464646" stroke-width="1"/>
<rect x="386.37" y="115.50" width="2.0" height="9.75" fill="#111111"/>
<line x1="390.50" y1="120.90" x2="390.50" y2="129.50" stroke="#464646" stroke-width="1"/>
<rect x="389.04" y="121.50" width="2.0" height="3.75" fill="#111111"/>
<line x1="392.50" y1="119.25" x2="392.50" y2="127.50" stroke="#464646" stroke-width="1"/>
<rect x="391.70" y="121.50" width="2.0" height="3.00" fill="#a2a2a2"/>
<rect x="391.70" y="121.50" width="2.0" height="3.00" fill="none" stroke="#333" stroke-width="0.35"/>
<line x1="395.50" y1="114.75" x2="395.50" y2="122.10" stroke="#464646" stroke-width="1"/>
<rect x="394.37" y="117.75" width="2.0" height="3.75" fill="#a2a2a2"/>
<rect x="394.37" y="117.75" width="2.0" height="3.75" fill="none" stroke="#333" stroke-width="0.35"/>
<line x1="398.50" y1="113.40" x2="398.50" y2="119.85" stroke="#464646" stroke-width="1"/>
<rect x="397.03" y="114.00" width="2.0" height="5.25" fill="#a2a2a2"/>
<rect x="397.03" y="114.00" width="2.0" height="5.25" fill="none" stroke="#333" stroke-width="0.35"/>
<line x1="400.50" y1="109.20" x2="400.50" y2="119.10" stroke="#464646" stroke-width="1"/>
<rect x="399.70" y="114.00" width="2.0" height="4.50" fill="#111111"/>
<line x1="403.50" y1="110.25" x2="403.50" y2="126.60" stroke="#464646" stroke-width="1"/>
<rect x="402.37" y="112.50" width="2.0" height="13.50" fill="#111111"/>
<line x1="406.50" y1="117.00" x2="406.50" y2="133.35" stroke="#464646" stroke-width="1"/>
<rect x="405.03" y="123.75" width="2.0" height="9.00" fill="#111111"/>
<line x1="408.50" y1="131.40" x2="408.50" y2="141.60" stroke="#464646" stroke-width="1"/>
<rect x="407.70" y="132.00" width="2.0" height="9.00" fill="#111111"/>
<line x1="411.50" y1="137.40" x2="411.50" y2="144.60" stroke="#464646" stroke-width="1"/>
<rect x="410.36" y="138.00" width="2.0" height="6.00" fill="#111111"/>
<line x1="414.50" y1="140.40" x2="414.50" y2="151.35" stroke="#464646" stroke-width="1"/>
<rect x="413.03" y="141.00" width="2.0" height="9.75" fill="#111111"/>
<line x1="416.50" y1="141.15" x2="416.50" y2="152.70" stroke="#464646" stroke-width="1"/>
<rect x="415.70" y="141.75" width="2.0" height="7.50" fill="#a2a2a2"/>
<rect x="415.70" y="141.75" width="2.0" height="7.50" fill="none" stroke="#333" stroke-width="0.35"/>
<line x1="419.50" y1="135.90" x2="419.50" y2="149.10" stroke="#464646" stroke-width="1"/>
<rect x="418.36" y="136.50" width="2.0" height="12.00" fill="#a2a2a2"/>
<rect x="418.36" y="136.50" width="2.0" height="12.00" fill="none" stroke="#333" stroke-width="0.35"/>
<line x1="422.50" y1="126.75" x2="422.50" y2="137.85" stroke="#464646" stroke-width="1"/>
<rect x="421.03" y="132.75" width="2.0" height="4.50" fill="#a2a2a2"/>
<rect x="421.03" y="132.75" width="2.0" height="4.50" fill="none" stroke="#333" stroke-width="0.35"/>
<line x1="424.50" y1="129.15" x2="424.50" y2="137.10" stroke="#464646" stroke-width="1"/>
<rect x="423.69" y="129.75" width="2.0" height="6.75" fill="#a2a2a2"/>
<rect x="423.69" y="129.75" width="2.0" height="6.75" fill="none" stroke="#333" stroke-width="0.35"/>
<line x1="427.50" y1="124.50" x2="427.50" y2="134.10" stroke="#464646" stroke-width="1"/>
<rect x="426.36" y="128.25" width="2.0" height="5.25" fill="#a2a2a2"/>
<rect x="426.36" y="128.25" width="2.0" height="5.25" fill="none" stroke="#333" stroke-width="0.35"/>
<line x1="430.50" y1="125.40" x2="430.50" y2="130.35" stroke="#464646" stroke-width="1"/>
<rect x="429.03" y="126.00" width="2.0" height="3.75" fill="#a2a2a2"/>
<rect x="429.03" y="126.00" width="2.0" height="3.75" fill="none" stroke="#333" stroke-width="0.35"/>
<line x1="432.50" y1="112.20" x2="432.50" y2="128.10" stroke="#464646" stroke-width="1"/>
<rect x="431.69" y="117.00" width="2.0" height="10.50" fill="#a2a2a2"/>
<rect x="431.69" y="117.00" width="2.0" height="10.50" fill="none" stroke="#333" stroke-width="0.35"/>
<line x1="435.50" y1="114.00" x2="435.50" y2="122.85" stroke="#464646" stroke-width="1"/>
<rect x="434.36" y="117.75" width="2.0" height="4.50" fill="#111111"/>
<line x1="438.50" y1="120.15" x2="438.50" y2="128.10" stroke="#464646" stroke-width="1"/>
<rect x="437.02" y="120.75" width="2.0" height="6.75" fill="#111111"/>
<line x1="440.50" y1="123.90" x2="440.50" y2="131.10" stroke="#464646" stroke-width="1"/>
<rect x="439.69" y="124.50" width="2.0" height="6.00" fill="#111111"/>
<line x1="443.50" y1="128.40" x2="443.50" y2="141.60" stroke="#464646" stroke-width="1"/>
<rect x="442.36" y="129.00" width="2.0" height="12.00" fill="#111111"/>
<line x1="446.50" y1="135.90" x2="446.50" y2="144.60" stroke="#464646" stroke-width="1"/>
<rect x="445.02" y="136.50" width="2.0" height="7.50" fill="#111111"/>
<line x1="448.50" y1="139.65" x2="448.50" y2="148.20" stroke="#464646" stroke-width="1"/>
<rect x="447.69" y="140.25" width="2.0" height="4.50" fill="#111111"/>
<line x1="451.50" y1="135.90" x2="451.50" y2="143.85" stroke="#464646" stroke-width="1"/>
<rect x="450.35" y="136.50" width="2.0" height="6.75" fill="#a2a2a2"/>
<rect x="450.35" y="136.50" width="2.0" height="6.75" fill="none" stroke="#333" stroke-width="0.35"/>
<line x1="454.50" y1="128.25" x2="454.50" y2="143.10" stroke="#464646" stroke-width="1"/>
<rect x="453.02" y="132.00" width="2.0" height="10.50" fill="#a2a2a2"/>
<rect x="453.02" y="132.00" width="2.0" height="10.50" fill="none" stroke="#333" stroke-width="0.35"/>
<line x1="456.50" y1="125.40" x2="456.50" y2="133.35" stroke="#464646" stroke-width="1"/>
<rect x="455.69" y="126.00" width="2.0" height="6.75" fill="#a2a2a2"/>
<rect x="455.69" y="126.00" width="2.0" height="6.75" fill="none" stroke="#333" stroke-width="0.35"/>
<line x1="459.50" y1="122.25" x2="459.50" y2="132.00" stroke="#464646" stroke-width="1"/>
<rect x="458.35" y="126.00" width="2.0" height="3.00" fill="#111111"/>
<line x1="462.50" y1="122.25" x2="462.50" y2="135.00" stroke="#464646" stroke-width="1"/>
<rect x="461.02" y="125.25" width="2.0" height="2.25" fill="#111111"/>
<line x1="464.50" y1="114.00" x2="464.50" y2="127.35" stroke="#464646" stroke-width="1"/>
<rect x="463.68" y="119.25" width="2.0" height="7.50" fill="#a2a2a2"/>
<rect x="463.68" y="119.25" width="2.0" height="7.50" fill="none" stroke="#333" stroke-width="0.35"/>
<line x1="467.50" y1="117.00" x2="467.50" y2="125.00" stroke="#464646" stroke-width="1"/>
<rect x="466.35" y="119.25" width="2.0" height="3.00" fill="#a2a2a2"/>
<rect x="466.35" y="119.25" width="2.0" height="3.00" fill="none" stroke="#333" stroke-width="0.35"/>
<line x1="470.50" y1="108.40" x2="470.50" y2="121.10" stroke="#464646" stroke-width="1"/>
<rect x="469.02" y="109.00" width="2.0" height="11.50" fill="#a2a2a2"/>
<rect x="469.02" y="109.00" width="2.0" height="11.50" fill="none" stroke="#333" stroke-width="0.35"/>
<line x1="472.50" y1="106.75" x2="472.50" y2="116.10" stroke="#464646" stroke-width="1"/>
<rect x="471.68" y="108.75" width="2.0" height="6.75" fill="#111111"/>
<line x1="475.50" y1="110.40" x2="475.50" y2="118.35" stroke="#464646" stroke-width="1"/>
<rect x="474.35" y="111.00" width="2.0" height="6.75" fill="#111111"/>
<line x1="478.50" y1="109.50" x2="478.50" y2="121.50" stroke="#464646" stroke-width="1"/>
<rect x="477.01" y="116.25" width="2.0" height="3.75" fill="#111111"/>
<line x1="480.50" y1="111.90" x2="480.50" y2="120.60" stroke="#464646" stroke-width="1"/>
<rect x="479.68" y="112.50" width="2.0" height="7.50" fill="#a2a2a2"/>
<rect x="479.68" y="112.50" width="2.0" height="7.50" fill="none" stroke="#333" stroke-width="0.35"/>
<line x1="483.50" y1="102.65" x2="483.50" y2="113.85" stroke="#464646" stroke-width="1"/>
<rect x="482.35" y="103.25" width="2.0" height="10.00" fill="#a2a2a2"/>
<rect x="482.35" y="103.25" width="2.0" height="10.00" fill="none" stroke="#333" stroke-width="0.35"/>
<line x1="486.50" y1="90.00" x2="486.50" y2="105.60" stroke="#464646" stroke-width="1"/>
<rect x="485.01" y="95.25" width="2.0" height="9.75" fill="#a2a2a2"/>
<rect x="485.01" y="95.25" width="2.0" height="9.75" fill="none" stroke="#333" stroke-width="0.35"/>
<line x1="488.50" y1="93.15" x2="488.50" y2="99.60" stroke="#464646" stroke-width="1"/>
<rect x="487.68" y="93.75" width="2.0" height="5.25" fill="#a2a2a2"/>
<rect x="487.68" y="93.75" width="2.0" height="5.25" fill="none" stroke="#333" stroke-width="0.35"/>
<line x1="491.50" y1="87.75" x2="491.50" y2="96.60" stroke="#464646" stroke-width="1"/>
<rect x="490.34" y="92.25" width="2.0" height="3.75" fill="#a2a2a2"/>
<rect x="490.34" y="92.25" width="2.0" height="3.75" fill="none" stroke="#333" stroke-width="0.35"/>
<line x1="494.50" y1="80.00" x2="494.50" y2="95.85" stroke="#464646" stroke-width="1"/>
<rect x="493.01" y="92.25" width="2.0" height="3.00" fill="#111111"/>
<line x1="496.50" y1="93.15" x2="496.50" y2="101.10" stroke="#464646" stroke-width="1"/>
<rect x="495.68" y="93.75" width="2.0" height="6.75" fill="#111111"/>
<line x1="499.50" y1="93.90" x2="499.50" y2="101.85" stroke="#464646" stroke-width="1"/>
<rect x="498.34" y="94.50" width="2.0" height="6.75" fill="#111111"/>
<line x1="502.50" y1="95.40" x2="502.50" y2="102.00" stroke="#464646" stroke-width="1"/>
<rect x="501.01" y="96.00" width="2.0" height="4.50" fill="#a2a2a2"/>
<rect x="501.01" y="96.00" width="2.0" height="4.50" fill="none" stroke="#333" stroke-width="0.35"/>
<line x1="504.50" y1="88.65" x2="504.50" y2="101.10" stroke="#464646" stroke-width="1"/>
<rect x="503.67" y="89.25" width="2.0" height="11.25" fill="#a2a2a2"/>
<rect x="503.67" y="89.25" width="2.0" height="11.25" fill="none" stroke="#333" stroke-width="0.35"/>
<line x1="507.50" y1="81.90" x2="507.50" y2="92.10" stroke="#464646" stroke-width="1"/>
<rect x="506.34" y="82.50" width="2.0" height="9.00" fill="#a2a2a2"/>
<rect x="506.34" y="82.50" width="2.0" height="9.00" fill="none" stroke="#333" stroke-width="0.35"/>
<line x1="510.50" y1="79.20" x2="510.50" y2="88.35" stroke="#464646" stroke-width="1"/>
<rect x="509.01" y="82.50" width="2.0" height="5.25" fill="#111111"/>
<line x1="512.50" y1="82.50" x2="512.50" y2="89.85" stroke="#464646" stroke-width="1"/>
<rect x="511.67" y="85.50" width="2.0" height="3.75" fill="#111111"/>
<line x1="515.50" y1="84.00" x2="515.50" y2="92.85" stroke="#464646" stroke-width="1"/>
<rect x="514.34" y="87.00" width="2.0" height="5.25" fill="#111111"/>
<line x1="518.50" y1="87.15" x2="518.50" y2="94.35" stroke="#464646" stroke-width="1"/>
<rect x="517.00" y="87.75" width="2.0" height="6.00" fill="#111111"/>
<line x1="520.50" y1="90.60" x2="520.50" y2="99.40" stroke="#464646" stroke-width="1"/>
<rect x="519.67" y="93.80" width="2.0" height="2.00" fill="#111111"/>
<line x1="523.50" y1="89.25" x2="523.50" y2="100.35" stroke="#464646" stroke-width="1"/>
<rect x="522.34" y="91.50" width="2.0" height="8.25" fill="#111111"/>
<line x1="526.50" y1="96.90" x2="526.50" y2="111.50" stroke="#464646" stroke-width="1"/>
<rect x="525.00" y="97.50" width="2.0" height="2.25" fill="#111111"/>
<line x1="528.50" y1="94.50" x2="528.50" y2="107.10" stroke="#464646" stroke-width="1"/>
<rect x="527.67" y="97.50" width="2.0" height="9.00" fill="#111111"/>
<line x1="531.50" y1="102.90" x2="531.50" y2="109.35" stroke="#464646" stroke-width="1"/>
<rect x="530.33" y="103.50" width="2.0" height="5.25" fill="#111111"/>
<line x1="533.50" y1="106.65" x2="533.50" y2="113.10" stroke="#464646" stroke-width="1"/>
<rect x="533.00" y="107.25" width="2.0" height="5.25" fill="#111111"/>
<line x1="536.50" y1="110.40" x2="536.50" y2="120.75" stroke="#464646" stroke-width="1"/>
<rect x="535.67" y="111.00" width="2.0" height="7.50" fill="#111111"/>
<line x1="539.50" y1="103.50" x2="539.50" y2="118.35" stroke="#464646" stroke-width="1"/>
<rect x="538.33" y="111.75" width="2.0" height="6.00" fill="#a2a2a2"/>
<rect x="538.33" y="111.75" width="2.0" height="6.00" fill="none" stroke="#333" stroke-width="0.35"/>
<line x1="541.50" y1="110.40" x2="541.50" y2="116.10" stroke="#464646" stroke-width="1"/>
<rect x="541.00" y="111.00" width="2.0" height="4.50" fill="#a2a2a2"/>
<rect x="541.00" y="111.00" width="2.0" height="4.50" fill="none" stroke="#333" stroke-width="0.35"/>
<line x1="544.50" y1="111.90" x2="544.50" y2="116.85" stroke="#464646" stroke-width="1"/>
<rect x="543.66" y="112.50" width="2.0" height="3.75" fill="#111111"/>
<line x1="547.50" y1="114.15" x2="547.50" y2="120.60" stroke="#464646" stroke-width="1"/>
<rect x="546.33" y="114.75" width="2.0" height="5.25" fill="#111111"/>
<line x1="549.50" y1="115.65" x2="549.50" y2="126.60" stroke="#464646" stroke-width="1"/>
<rect x="549.00" y="116.25" width="2.0" height="9.75" fill="#111111"/>
<line x1="552.50" y1="119.40" x2="552.50" y2="129.00" stroke="#464646" stroke-width="1"/>
<rect x="551.66" y="120.00" width="2.0" height="8.25" fill="#111111"/>
<line x1="555.50" y1="88.00" x2="555.50" y2="118.35" stroke="#464646" stroke-width="1"/>
<rect x="554.33" y="99.00" width="2.0" height="18.75" fill="#a2a2a2"/>
<rect x="554.33" y="99.00" width="2.0" height="18.75" fill="none" stroke="#333" stroke-width="0.35"/>
<line x1="557.50" y1="95.40" x2="557.50" y2="108.60" stroke="#464646" stroke-width="1"/>
<rect x="556.99" y="96.00" width="2.0" height="12.00" fill="#111111"/>
<line x1="560.50" y1="91.65" x2="560.50" y2="98.10" stroke="#464646" stroke-width="1"/>
<rect x="559.66" y="92.25" width="2.0" height="5.25" fill="#a2a2a2"/>
<rect x="559.66" y="92.25" width="2.0" height="5.25" fill="none" stroke="#333" stroke-width="0.35"/>
<line x1="563.50" y1="75.40" x2="563.50" y2="92.85" stroke="#464646" stroke-width="1"/>
<rect x="562.33" y="76.00" width="2.0" height="16.25" fill="#a2a2a2"/>
<rect x="562.33" y="76.00" width="2.0" height="16.25" fill="none" stroke="#333" stroke-width="0.35"/>
<line x1="565.50" y1="59.50" x2="565.50" y2="74.50" stroke="#464646" stroke-width="1"/>
<rect x="564.99" y="65.50" width="2.0" height="3.00" fill="#a2a2a2"/>
<rect x="564.99" y="65.50" width="2.0" height="3.00" fill="none" stroke="#333" stroke-width="0.35"/>
<line x1="568.50" y1="20.80" x2="568.50" y2="67.60" stroke="#464646" stroke-width="1"/>
<rect x="567.66" y="29.50" width="2.0" height="37.50" fill="#5a5a5a"/>
<line x1="571.50" y1="28.90" x2="571.50" y2="56.50" stroke="#464646" stroke-width="1"/>
<rect x="570.32" y="29.50" width="2.0" height="20.25" fill="#111111"/>
<line x1="573.50" y1="39.25" x2="573.50" y2="49.60" stroke="#464646" stroke-width="1"/>
<rect x="572.99" y="45.25" width="2.0" height="3.75" fill="#111111"/>
<line x1="576.50" y1="44.65" x2="576.50" y2="72.10" stroke="#464646" stroke-width="1"/>
<rect x="575.66" y="45.25" width="2.0" height="26.25" fill="#111111"/>
<line x1="579.50" y1="69.90" x2="579.50" y2="87.00" stroke="#464646" stroke-width="1"/>
<rect x="578.32" y="70.50" width="2.0" height="14.25" fill="#111111"/>
<line x1="581.50" y1="76.65" x2="581.50" y2="86.10" stroke="#464646" stroke-width="1"/>
<rect x="580.99" y="77.25" width="2.0" height="8.25" fill="#a2a2a2"/>
<rect x="580.99" y="77.25" width="2.0" height="8.25" fill="none" stroke="#333" stroke-width="0.35"/>
<line x1="584.50" y1="73.00" x2="584.50" y2="84.60" stroke="#464646" stroke-width="1"/>
<rect x="583.65" y="78.00" width="2.0" height="6.00" fill="#111111"/>
<line x1="587.50" y1="78.90" x2="587.50" y2="86.85" stroke="#464646" stroke-width="1"/>
<rect x="586.32" y="79.50" width="2.0" height="6.75" fill="#111111"/>
<line x1="589.50" y1="79.15" x2="589.50" y2="88.50" stroke="#464646" stroke-width="1"/>
<rect x="588.99" y="79.75" width="2.0" height="7.25" fill="#a2a2a2"/>
<rect x="588.99" y="79.75" width="2.0" height="7.25" fill="none" stroke="#333" stroke-width="0.35"/>
<line x1="592.50" y1="57.40" x2="592.50" y2="80.35" stroke="#464646" stroke-width="1"/>
<rect x="591.65" y="58.00" width="2.0" height="21.75" fill="#a2a2a2"/>
<rect x="591.65" y="58.00" width="2.0" height="21.75" fill="none" stroke="#333" stroke-width="0.35"/>
<line x1="595.50" y1="53.50" x2="595.50" y2="63.10" stroke="#464646" stroke-width="1"/>
<rect x="594.32" y="58.00" width="2.0" height="4.50" fill="#111111"/>
<line x1="597.50" y1="55.00" x2="597.50" y2="74.50" stroke="#464646" stroke-width="1"/>
<rect x="596.98" y="61.00" width="2.0" height="5.25" fill="#111111"/>
<line x1="600.50" y1="61.15" x2="600.50" y2="70.75" stroke="#464646" stroke-width="1"/>
<rect x="599.65" y="61.75" width="2.0" height="6.00" fill="#111111"/>
<line x1="603.50" y1="63.25" x2="603.50" y2="71.50" stroke="#464646" stroke-width="1"/>
<rect x="602.32" y="65.50" width="2.0" height="2.25" fill="#111111"/>
<line x1="605.50" y1="65.65" x2="605.50" y2="72.10" stroke="#464646" stroke-width="1"/>
<rect x="604.98" y="66.25" width="2.0" height="5.25" fill="#111111"/>
<line x1="608.50" y1="69.40" x2="608.50" y2="80.00" stroke="#464646" stroke-width="1"/>
<rect x="607.65" y="70.00" width="2.0" height="1.50" fill="#111111"/>
<line x1="611.50" y1="69.40" x2="611.50" y2="86.60" stroke="#464646" stroke-width="1"/>
<rect x="610.31" y="70.00" width="2.0" height="16.00" fill="#111111"/>
<line x1="613.50" y1="79.40" x2="613.50" y2="93.50" stroke="#464646" stroke-width="1"/>
<rect x="612.98" y="80.00" width="2.0" height="8.25" fill="#111111"/>
<line x1="616.50" y1="79.40" x2="616.50" y2="93.50" stroke="#464646" stroke-width="1"/>
<rect x="615.65" y="80.00" width="2.0" height="8.25" fill="#a2a2a2"/>
<rect x="615.65" y="80.00" width="2.0" height="8.25" fill="none" stroke="#333" stroke-width="0.35"/>
<line x1="619.50" y1="74.30" x2="619.50" y2="87.35" stroke="#464646" stroke-width="1"/>
<rect x="618.31" y="84.50" width="2.0" height="2.25" fill="#a2a2a2"/>
<rect x="618.31" y="84.50" width="2.0" height="2.25" fill="none" stroke="#333" stroke-width="0.35"/>
<line x1="621.50" y1="83.90" x2="621.50" y2="89.60" stroke="#464646" stroke-width="1"/>
<rect x="620.98" y="84.50" width="2.0" height="4.50" fill="#111111"/>
<line x1="624.50" y1="79.40" x2="624.50" y2="88.85" stroke="#464646" stroke-width="1"/>
<rect x="623.64" y="80.00" width="2.0" height="8.25" fill="#a2a2a2"/>
<rect x="623.64" y="80.00" width="2.0" height="8.25" fill="none" stroke="#333" stroke-width="0.35"/>
<line x1="627.50" y1="74.75" x2="627.50" y2="87.50" stroke="#464646" stroke-width="1"/>
<rect x="626.31" y="80.00" width="2.0" height="3.00" fill="#111111"/>
<line x1="629.50" y1="77.15" x2="629.50" y2="83.60" stroke="#464646" stroke-width="1"/>
<rect x="628.98" y="77.75" width="2.0" height="5.25" fill="#a2a2a2"/>
<rect x="628.98" y="77.75" width="2.0" height="5.25" fill="none" stroke="#333" stroke-width="0.35"/>
<line x1="632.50" y1="82.40" x2="632.50" y2="107.60" stroke="#464646" stroke-width="1"/>
<rect x="631.64" y="83.00" width="2.0" height="24.00" fill="#111111"/>
<line x1="635.50" y1="102.50" x2="635.50" y2="139.40" stroke="#464646" stroke-width="1"/>
<rect x="634.31" y="106.25" width="2.0" height="16.25" fill="#111111"/>
<line x1="637.50" y1="113.75" x2="637.50" y2="123.10" stroke="#464646" stroke-width="1"/>
<rect x="636.97" y="117.25" width="2.0" height="5.25" fill="#111111"/>
<line x1="640.50" y1="117.00" x2="640.50" y2="133.50" stroke="#464646" stroke-width="1"/>
<rect x="639.64" y="117.60" width="2.0" height="6.40" fill="#111111"/>
<line x1="643.50" y1="121.15" x2="643.50" y2="136.60" stroke="#464646" stroke-width="1"/>
<rect x="642.31" y="121.75" width="2.0" height="14.25" fill="#a2a2a2"/>
<rect x="642.31" y="121.75" width="2.0" height="14.25" fill="none" stroke="#333" stroke-width="0.35"/>
<line x1="645.50" y1="117.00" x2="645.50" y2="144.30" stroke="#464646" stroke-width="1"/>
<rect x="644.97" y="117.60" width="2.0" height="18.90" fill="#a2a2a2"/>
<rect x="644.97" y="117.60" width="2.0" height="18.90" fill="none" stroke="#333" stroke-width="0.35"/>
<line x1="648.50" y1="110.10" x2="648.50" y2="123.10" stroke="#464646" stroke-width="1"/>
<rect x="647.64" y="117.60" width="2.0" height="4.90" fill="#111111"/>
<line x1="651.50" y1="115.50" x2="651.50" y2="132.10" stroke="#464646" stroke-width="1"/>
<rect x="650.30" y="122.50" width="2.0" height="9.00" fill="#111111"/>
<line x1="653.50" y1="129.80" x2="653.50" y2="144.60" stroke="#464646" stroke-width="1"/>
<rect x="652.97" y="130.40" width="2.0" height="13.60" fill="#111111"/>
<line x1="656.50" y1="140.40" x2="656.50" y2="165.75" stroke="#464646" stroke-width="1"/>
<rect x="655.64" y="141.00" width="2.0" height="24.00" fill="#111111"/>
<line x1="659.50" y1="142.65" x2="659.50" y2="164.85" stroke="#464646" stroke-width="1"/>
<rect x="658.30" y="143.25" width="2.0" height="21.00" fill="#a2a2a2"/>
<rect x="658.30" y="143.25" width="2.0" height="21.00" fill="none" stroke="#333" stroke-width="0.35"/>
<line x1="661.50" y1="136.50" x2="661.50" y2="147.60" stroke="#464646" stroke-width="1"/>
<rect x="660.97" y="138.75" width="2.0" height="8.25" fill="#a2a2a2"/>
<rect x="660.97" y="138.75" width="2.0" height="8.25" fill="none" stroke="#333" stroke-width="0.35"/>
<line x1="664.50" y1="138.15" x2="664.50" y2="157.35" stroke="#464646" stroke-width="1"/>
<rect x="663.63" y="138.75" width="2.0" height="18.00" fill="#111111"/>
<line x1="667.50" y1="121.40" x2="667.50" y2="158.25" stroke="#464646" stroke-width="1"/>
<rect x="666.30" y="128.25" width="2.0" height="29.25" fill="#a2a2a2"/>
<rect x="666.30" y="128.25" width="2.0" height="29.25" fill="none" stroke="#333" stroke-width="0.35"/>
<line x1="669.50" y1="126.90" x2="669.50" y2="141.00" stroke="#464646" stroke-width="1"/>
<rect x="668.97" y="127.50" width="2.0" height="4.50" fill="#111111"/>
<line x1="672.50" y1="116.20" x2="672.50" y2="150.30" stroke="#464646" stroke-width="1"/>
<rect x="671.63" y="122.25" width="2.0" height="12.00" fill="#a2a2a2"/>
<rect x="671.63" y="122.25" width="2.0" height="12.00" fill="none" stroke="#333" stroke-width="0.35"/>
<line x1="675.50" y1="119.00" x2="675.50" y2="133.50" stroke="#464646" stroke-width="1"/>
<rect x="674.30" y="122.00" width="2.0" height="1.00" fill="#a2a2a2"/>
<rect x="674.30" y="122.00" width="2.0" height="1.00" fill="none" stroke="#333" stroke-width="0.35"/>
<line x1="677.50" y1="119.10" x2="677.50" y2="128.85" stroke="#464646" stroke-width="1"/>
<rect x="676.96" y="122.25" width="2.0" height="6.00" fill="#111111"/>
</g>
<g fill="#1414ff">
<circle cx="6" cy="222.2" r="1.4"/>
<circle cx="22.1" cy="151.5" r="1.4"/>
<circle cx="38.2" cy="130" r="1.4"/>
<circle cx="43.3" cy="187.5" r="1.4"/>
<circle cx="51.6" cy="162.4" r="1.4"/>
<circle cx="59.3" cy="196.1" r="1.4"/>
<circle cx="78" cy="239.5" r="1.4"/>
<circle cx="83.3" cy="196.7" r="1.4"/>
<circle cx="88.4" cy="225.5" r="1.4"/>
<circle cx="104.7" cy="163.5" r="1.4"/>
<circle cx="112.5" cy="208.1" r="1.4"/>
<circle cx="126" cy="147.25" r="1.4"/>
<circle cx="139.25" cy="117.5" r="1.4"/>
<circle cx="152.75" cy="157.75" r="1.4"/>
<circle cx="174" cy="74.7" r="1.4"/>
<circle cx="203.5" cy="98.25" r="1.4"/>
<circle cx="206" cy="133.6" r="1.4"/>
<circle cx="219.2" cy="84" r="1.4"/>
<circle cx="235.25" cy="169.5" r="1.4"/>
<circle cx="246.2" cy="103.25" r="1.4"/>
<circle cx="251.3" cy="126.9" r="1.4"/>
<circle cx="256.7" cy="96" r="1.4"/>
<circle cx="275.5" cy="127.75" r="1.4"/>
<circle cx="275.5" cy="93.5" r="1.4"/>
<circle cx="283.25" cy="130.5" r="1.4"/>
<circle cx="291.3" cy="94.7" r="1.4"/>
<circle cx="297" cy="122.75" r="1.4"/>
<circle cx="307.2" cy="85.5" r="1.4"/>
<circle cx="312.8" cy="111.4" r="1.4"/>
<circle cx="323.5" cy="56.3" r="1.4"/>
<circle cx="331.2" cy="97.7" r="1.4"/>
<circle cx="339.3" cy="114.5" r="1.4"/>
<circle cx="350.25" cy="86" r="1.4"/>
<circle cx="366.2" cy="137" r="1.4"/>
<circle cx="374" cy="137" r="1.4"/>
<circle cx="382.1" cy="96.9" r="1.4"/>
<circle cx="389.75" cy="129.5" r="1.4"/>
<circle cx="400.75" cy="109.3" r="1.4"/>
<circle cx="416.75" cy="152.7" r="1.4"/>
<circle cx="432.65" cy="112.2" r="1.4"/>
<circle cx="448.5" cy="148.2" r="1.4"/>
<circle cx="472.6" cy="106.8" r="1.4"/>
<circle cx="480.8" cy="121.5" r="1.4"/>
<circle cx="494" cy="80" r="1.4"/>
<circle cx="502.2" cy="102" r="1.4"/>
<circle cx="510" cy="79.2" r="1.4"/>
<circle cx="526" cy="111.5" r="1.4"/>
<circle cx="536.7" cy="120.75" r="1.4"/>
<circle cx="539.5" cy="103.5" r="1.4"/>
<circle cx="552.75" cy="129" r="1.4"/>
<circle cx="555.3" cy="88" r="1.4"/>
<circle cx="568.7" cy="20.8" r="1.4"/>
<circle cx="579.5" cy="87" r="1.4"/>
<circle cx="590" cy="88.5" r="1.4"/>
<circle cx="595.25" cy="53.5" r="1.4"/>
<circle cx="614.25" cy="93.5" r="1.4"/>
<circle cx="619.3" cy="74.4" r="1.4"/>
<circle cx="627.3" cy="74.75" r="1.4"/>
<circle cx="635.4" cy="139.4" r="1.4"/>
<circle cx="646" cy="144.3" r="1.4"/>
<circle cx="648.7" cy="110.2" r="1.4"/>
<circle cx="656.8" cy="165.75" r="1.4"/>
<circle cx="667.5" cy="158.25" r="1.4"/>
<circle cx="672.7" cy="116.2" r="1.4"/>
</g>
<g font-size="10.27" fill="#242424" stroke="#242424" stroke-width="0.18">
<text x="48.50" y="146.40" font-size="10.35">Order-block</text>
<text x="131.90" y="172.90">Imbalance 1</text>
<text x="159.10" y="148.60">Imbalance 2</text>
<text x="271.05" y="166.30">Imbalance 3</text>
<text x="252.30" y="138.55">Imbalance 4</text>
<text x="318.30" y="110.60">5</text>
<text x="327.55" y="81.10">Imbalance 6</text>
<text x="387.80" y="118.30">7</text>
<text x="428.55" y="159.30">Imbalance 8</text>
<text x="501.80" y="117.50">9</text>
<text x="507.10" y="105.00">10</text>
<text x="638.90" y="78.60" font-size="10.53">Imbalance 11</text>
<text x="673.60" y="151.00">Imbalance 12</text>
</g>
<line x1="0" y1="1.5" x2="873.6" y2="1.5" stroke="#3a3a3a" stroke-width="0.9"/>
<line x1="873.0" y1="1.5" x2="873.0" y2="486.2" stroke="#8e8e8e" stroke-width="1.6"/>
<line x1="0" y1="485.8" x2="873.6" y2="485.8" stroke="#3a3a3a" stroke-width="0.9"/>
<rect x="0" y="402.7" width="873.0" height="1.3" fill="#3a3a3a"/>
<rect x="0" y="404" width="873.0" height="1.6" fill="#9c9c9c"/>
<polyline points="0,442 2,441 6,429.6 11,439 14,437 16.4,437 20,427 22.4,425 25,426 28,430 30.4,428 33,429 35.6,429 38,426.6 41,432 43.6,436.4 47,435.6 49,436 52,434.4 54,435.6 58,440 61,441.4 64,440.6 67,438.6 70,442 73,445.4 75.6,445.6 78.4,452 80.4,448 89,448 92,444 94.4,442.4 97,441 99,442.4 102,438.6 105,438.4 108,441.6 110,443 112.4,440.6 115,441.4 118,437 120.6,441.4 123,440 125.6,438.4 128.4,441.4 131,440.6 134.4,439 137,436.4 140,433 144,434.4 147.6,440.4 151,440 155,438 159,434.4 163,431.6 166,429.6 169,428.6 172,425.6 175,425.6 177.6,427.6 179,430 182,431 185,436.4 189,435.6 193,438 197,441 201,447.4 203.4,444.4 206.4,448 209,445.6 212,440 215,436.4 217.4,435.6 220,437 222.4,439 225,451 227.6,453.6 230,459 232.6,459 235.6,447.4 238,448 240.4,447.4 243,444 245,442.4 248,443.4 251,445.6 254,442 257,441 259.4,444.4 262,441.6 265,444.4 269,444.4 273,448 275.4,441 278,446.4 284,446 287,442.6 291,441.6 294,446 296.4,445 299,446.4 302,442 304.4,439.4 308,443 310,444 313,441.6 317.6,440 321,434 324,438 326.6,440 329,443 331.6,440 334,439.4 337,444.4 339.6,449 343,447 346,445 349,445 352,446 355.6,444.4 359,448 362.4,452 366,456.4 368.6,451.6 371,454.4 375,450 379,446 383,448 387,451 390,451 394,449 398,446.6 401,446.6 404,451 408,455 412,458 415,459.4 417,458 419.6,451.6 422,450.4 425,450.4 428,447 430,446.4 433,442.4 436,444.4 439,447.6 442,449 445,452.4 448,454 451,454 454,448 457,444.4 460,443.6 463,443 467,441 470,435.6 472.4,439 475,439 478,441 481,442.6 483.6,436 486,432 489,430.6 492,430.4 496,432 499,435.6 501.6,438.4 504.4,433 507.4,430.4 510.4,432.4 514,434 517,438 521,441 523.6,443 526.4,443.6 529.6,448 533,451 536.6,455 539.4,450.4 542,452.4 545,453 548,457.4 550.4,457 555.6,440.4 558,444.4 563,434 566,430 569,424 571.6,432 574,431.6 577,440 579.6,444.4 582.4,443 585,443 588,445 590,443.6 593,438.4 596,439.4 599,440.6 604,442 609,443 612,448.4 618,448.4 620,447.6 622.4,449 625,445.6 627.6,446.4 630.4,445.6 633,455 635.6,459.4 639,458 642,458.6 646,456 649,457.6 652,460 657,466.4 659.6,459 662,455.4 664.6,458.4 667.6,449.6 670,450 673,447.6 675,447.4 678.4,449.4" fill="none" stroke="#1E90FF" stroke-width="1.4" stroke-linejoin="round" stroke-linecap="round"/>
<g font-size="6.18" fill="#151515" stroke="#151515" stroke-width="0.16">
<line x1="873.0" y1="19.25" x2="875.2" y2="19.25" stroke="#222" stroke-width="0.8" stroke-opacity="1"/>
<text x="876.8" y="21.95">1.2090</text>
<line x1="873.0" y1="41.70" x2="875.2" y2="41.70" stroke="#222" stroke-width="0.8" stroke-opacity="1"/>
<text x="876.8" y="44.40">1.1985</text>
<line x1="873.0" y1="64.15" x2="875.2" y2="64.15" stroke="#222" stroke-width="0.8" stroke-opacity="1"/>
<text x="876.8" y="66.85">1.1880</text>
<line x1="873.0" y1="86.60" x2="875.2" y2="86.60" stroke="#222" stroke-width="0.8" stroke-opacity="1"/>
<text x="876.8" y="89.30">1.1780</text>
<line x1="873.0" y1="109.05" x2="875.2" y2="109.05" stroke="#222" stroke-width="0.8" stroke-opacity="1"/>
<text x="876.8" y="111.75">1.1675</text>
<line x1="873.0" y1="131.50" x2="875.2" y2="131.50" stroke="#222" stroke-width="0.8" stroke-opacity="1"/>
<text x="876.8" y="134.20">1.1570</text>
<line x1="873.0" y1="153.95" x2="875.2" y2="153.95" stroke="#222" stroke-width="0.8" stroke-opacity="1"/>
<text x="876.8" y="156.65">1.1465</text>
<line x1="873.0" y1="176.40" x2="875.2" y2="176.40" stroke="#222" stroke-width="0.8" stroke-opacity="1"/>
<text x="876.8" y="179.10">1.1360</text>
<line x1="873.0" y1="198.85" x2="875.2" y2="198.85" stroke="#222" stroke-width="0.8" stroke-opacity="1"/>
<text x="876.8" y="201.55">1.1260</text>
<line x1="873.0" y1="221.30" x2="875.2" y2="221.30" stroke="#222" stroke-width="0.8" stroke-opacity="1"/>
<text x="876.8" y="224.00">1.1155</text>
<line x1="873.0" y1="243.75" x2="875.2" y2="243.75" stroke="#222" stroke-width="0.8" stroke-opacity="1"/>
<text x="876.8" y="246.45">1.1050</text>
<line x1="873.0" y1="266.20" x2="875.2" y2="266.20" stroke="#222" stroke-width="0.8" stroke-opacity="1"/>
<text x="876.8" y="268.90">1.0945</text>
<line x1="873.0" y1="288.65" x2="875.2" y2="288.65" stroke="#222" stroke-width="0.8" stroke-opacity="1"/>
<text x="876.8" y="291.35">1.0840</text>
<line x1="873.0" y1="311.10" x2="875.2" y2="311.10" stroke="#222" stroke-width="0.8" stroke-opacity="1"/>
<text x="876.8" y="313.80">1.0740</text>
<line x1="873.0" y1="333.55" x2="875.2" y2="333.55" stroke="#222" stroke-width="0.8" stroke-opacity="1"/>
<text x="876.8" y="336.25">1.0635</text>
<line x1="873.0" y1="356.00" x2="875.2" y2="356.00" stroke="#222" stroke-width="0.8" stroke-opacity="1"/>
<text x="876.8" y="358.70">1.0530</text>
<line x1="873.0" y1="378.45" x2="875.2" y2="378.45" stroke="#222" stroke-width="0.8" stroke-opacity="1"/>
<text x="876.8" y="381.15">1.0425</text>
<line x1="873.0" y1="400.90" x2="875.2" y2="400.90" stroke="#222" stroke-width="0.8" stroke-opacity="1"/>
<text x="876.8" y="403.60">1.0320</text>
<text x="875.8" y="412.00">100</text>
<text x="875.8" y="424.00">80</text>
<text x="875.8" y="472.00">20</text>
<text x="875.8" y="484.00">0</text>
<line x1="9.00" y1="485.8" x2="9.00" y2="488.0" stroke="#333" stroke-width="0.8"/>
<text x="8.80" y="494.8">4 Apr 2025</text>
<line x1="51.67" y1="485.8" x2="51.67" y2="488.0" stroke="#333" stroke-width="0.8"/>
<text x="51.47" y="494.8">28 Apr 2025</text>
<line x1="94.34" y1="485.8" x2="94.34" y2="488.0" stroke="#333" stroke-width="0.8"/>
<text x="94.14" y="494.8">20 May 2025</text>
<line x1="137.01" y1="485.8" x2="137.01" y2="488.0" stroke="#333" stroke-width="0.8"/>
<text x="136.81" y="494.8">11 Jun 2025</text>
<line x1="179.68" y1="485.8" x2="179.68" y2="488.0" stroke="#333" stroke-width="0.8"/>
<text x="179.48" y="494.8">3 Jul 2025</text>
<line x1="222.35" y1="485.8" x2="222.35" y2="488.0" stroke="#333" stroke-width="0.8"/>
<text x="222.15" y="494.8">25 Jul 2025</text>
<line x1="265.02" y1="485.8" x2="265.02" y2="488.0" stroke="#333" stroke-width="0.8"/>
<text x="264.82" y="494.8">18 Aug 2025</text>
<line x1="307.69" y1="485.8" x2="307.69" y2="488.0" stroke="#333" stroke-width="0.8"/>
<text x="307.49" y="494.8">9 Sep 2025</text>
<line x1="350.36" y1="485.8" x2="350.36" y2="488.0" stroke="#333" stroke-width="0.8"/>
<text x="350.16" y="494.8">1 Oct 2025</text>
<line x1="393.03" y1="485.8" x2="393.03" y2="488.0" stroke="#333" stroke-width="0.8"/>
<text x="392.83" y="494.8">23 Oct 2025</text>
<line x1="435.70" y1="485.8" x2="435.70" y2="488.0" stroke="#333" stroke-width="0.8"/>
<text x="435.50" y="494.8">14 Nov 2025</text>
<line x1="478.37" y1="485.8" x2="478.37" y2="488.0" stroke="#333" stroke-width="0.8"/>
<text x="478.17" y="494.8">8 Dec 2025</text>
<line x1="521.04" y1="485.8" x2="521.04" y2="488.0" stroke="#333" stroke-width="0.8"/>
<text x="520.84" y="494.8">31 Dec 2025</text>
<line x1="563.71" y1="485.8" x2="563.71" y2="488.0" stroke="#333" stroke-width="0.8"/>
<text x="563.51" y="494.8">23 Jan 2026</text>
<line x1="606.38" y1="485.8" x2="606.38" y2="488.0" stroke="#333" stroke-width="0.8"/>
<text x="606.18" y="494.8">16 Feb 2026</text>
<line x1="649.05" y1="485.8" x2="649.05" y2="488.0" stroke="#333" stroke-width="0.8"/>
<text x="648.85" y="494.8">10 Mar 2026</text>
<text x="1.3" y="10.0">1.1631 1.1585 1.1587</text>
</g>
<rect x="873.8" y="124.8" width="24.2" height="7" fill="#000"/>
<text x="876.9" y="130.75" font-size="6.35" fill="#fff" stroke="#fff" stroke-width="0.28">1.1587</text>
</svg></body></html>
